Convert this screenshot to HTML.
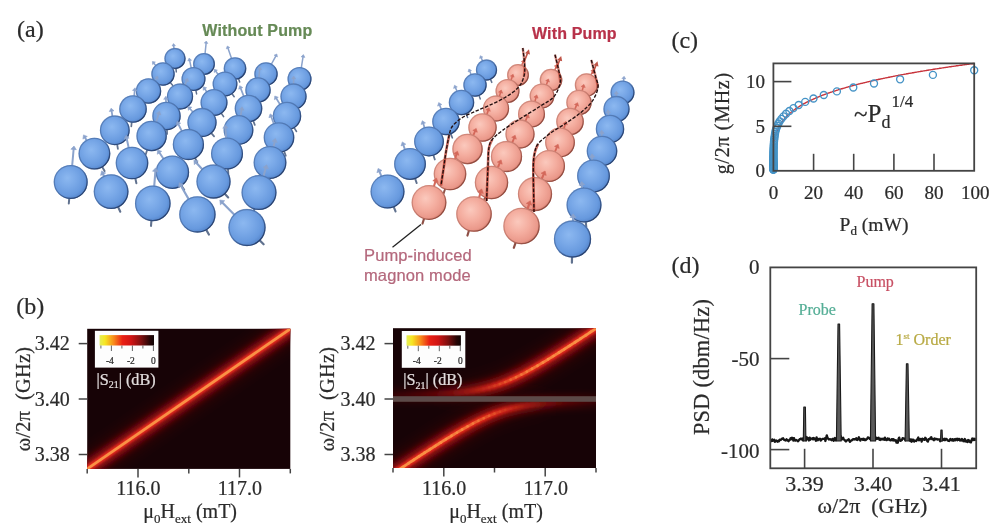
<!DOCTYPE html>
<html><head><meta charset="utf-8"><title>Figure</title>
<style>
html,body{margin:0;padding:0;background:#fff;}
body{width:1000px;height:530px;overflow:hidden;}
svg{display:block;filter:blur(0.6px);}
text{font-family:"Liberation Serif",serif;fill:#2b2b2b;stroke:#2b2b2b;stroke-width:0.22px;}
.san{font-family:"Liberation Sans",sans-serif;}
</style></head><body>
<svg width="1000" height="530" viewBox="0 0 1000 530">
<defs>
<radialGradient id="gb" cx="0.42" cy="0.42" r="0.62" fx="0.40" fy="0.38">
<stop offset="0" stop-color="#8cb8f0"/><stop offset="0.4" stop-color="#7aa9e8"/><stop offset="0.78" stop-color="#6799de"/><stop offset="1" stop-color="#5080c6"/>
</radialGradient>
<radialGradient id="gp" cx="0.42" cy="0.42" r="0.62" fx="0.40" fy="0.38">
<stop offset="0" stop-color="#fbc9bd"/><stop offset="0.5" stop-color="#f4ad9f"/><stop offset="0.85" stop-color="#ea988a"/><stop offset="1" stop-color="#cc7868"/>
</radialGradient>
<linearGradient id="rimb" x1="0.15" y1="0.1" x2="0.85" y2="0.9"><stop offset="0" stop-color="#27406e" stop-opacity="0.34"/><stop offset="0.45" stop-color="#27406e" stop-opacity="0.4"/><stop offset="1" stop-color="#1e3158" stop-opacity="0.85"/></linearGradient>
<linearGradient id="rimp" x1="0.15" y1="0.1" x2="0.85" y2="0.9"><stop offset="0" stop-color="#8a4438" stop-opacity="0.3"/><stop offset="0.45" stop-color="#8a4438" stop-opacity="0.36"/><stop offset="1" stop-color="#7a382e" stop-opacity="0.8"/></linearGradient>
<linearGradient id="cb" x1="0" x2="1" y1="0" y2="0">
<stop offset="0" stop-color="#e4ee58"/><stop offset="0.1" stop-color="#f6e622"/><stop offset="0.26" stop-color="#f88a1a"/><stop offset="0.42" stop-color="#ea2014"/><stop offset="0.58" stop-color="#d01414"/><stop offset="0.76" stop-color="#801010"/><stop offset="0.92" stop-color="#280606"/><stop offset="1" stop-color="#100404"/>
</linearGradient>
<linearGradient id="gu" gradientUnits="userSpaceOnUse" x1="430" x2="530" y1="0" y2="0"><stop offset="0" stop-color="#5a0a0e" stop-opacity="0"/><stop offset="1" stop-color="#5a0a0e" stop-opacity="1"/></linearGradient>
<linearGradient id="gl" gradientUnits="userSpaceOnUse" x1="460" x2="560" y1="0" y2="0"><stop offset="0" stop-color="#5a0a0e" stop-opacity="1"/><stop offset="1" stop-color="#5a0a0e" stop-opacity="0"/></linearGradient>
<filter id="bl12" x="-30%" y="-30%" width="160%" height="160%"><feGaussianBlur stdDeviation="9"/></filter>
<filter id="bl6" x="-20%" y="-20%" width="140%" height="140%"><feGaussianBlur stdDeviation="3.2"/></filter>
<filter id="bl2" x="-20%" y="-20%" width="140%" height="140%"><feGaussianBlur stdDeviation="1.3"/></filter>
<filter id="bl1" x="-20%" y="-20%" width="140%" height="140%"><feGaussianBlur stdDeviation="0.6"/></filter>
<clipPath id="c1"><rect x="87.2" y="328.8" width="203.1" height="140.1"/></clipPath>
<clipPath id="c2"><rect x="393" y="328.2" width="203" height="139.8"/></clipPath>
</defs>
<rect width="1000" height="530" fill="#fff"/>

<g id="lattL">
<line x1="175.0" y1="58.5" x2="176.3" y2="71.9" stroke="#61728f" stroke-width="1.5" stroke-linecap="round"/><line x1="175.0" y1="58.5" x2="173.7" y2="45.8" stroke="#8ba3cc" stroke-width="1.5" stroke-linecap="round"/><polygon points="173.5,43.6 175.4,45.7 172.0,46.0" fill="#8ba3cc" stroke="#8ba3cc" stroke-width="0.6" stroke-linejoin="round"/><circle cx="175.0" cy="58.5" r="10.6" fill="url(#gb)"/><circle cx="175.0" cy="58.5" r="10.0" fill="none" stroke="url(#rimb)" stroke-width="1.3"/>
<line x1="204.0" y1="64.0" x2="202.6" y2="77.8" stroke="#61728f" stroke-width="1.5" stroke-linecap="round"/><line x1="204.0" y1="64.0" x2="206.1" y2="43.3" stroke="#8ba3cc" stroke-width="1.5" stroke-linecap="round"/><polygon points="206.3,41.0 207.8,43.5 204.3,43.1" fill="#8ba3cc" stroke="#8ba3cc" stroke-width="0.6" stroke-linejoin="round"/><circle cx="204.0" cy="64.0" r="10.9" fill="url(#gb)"/><circle cx="204.0" cy="64.0" r="10.3" fill="none" stroke="url(#rimb)" stroke-width="1.3"/>
<line x1="235.0" y1="68.5" x2="239.7" y2="82.1" stroke="#61728f" stroke-width="1.5" stroke-linecap="round"/><line x1="235.0" y1="68.5" x2="228.0" y2="48.2" stroke="#8ba3cc" stroke-width="1.5" stroke-linecap="round"/><polygon points="227.3,46.0 229.8,47.6 226.3,48.8" fill="#8ba3cc" stroke="#8ba3cc" stroke-width="0.6" stroke-linejoin="round"/><circle cx="235.0" cy="68.5" r="11.3" fill="url(#gb)"/><circle cx="235.0" cy="68.5" r="10.7" fill="none" stroke="url(#rimb)" stroke-width="1.3"/>
<line x1="266.0" y1="74.0" x2="258.9" y2="87.0" stroke="#61728f" stroke-width="1.5" stroke-linecap="round"/><line x1="266.0" y1="74.0" x2="275.8" y2="56.1" stroke="#8ba3cc" stroke-width="1.5" stroke-linecap="round"/><polygon points="276.9,54.0 277.4,57.0 274.1,55.2" fill="#8ba3cc" stroke="#8ba3cc" stroke-width="0.6" stroke-linejoin="round"/><circle cx="266.0" cy="74.0" r="11.7" fill="url(#gb)"/><circle cx="266.0" cy="74.0" r="11.1" fill="none" stroke="url(#rimb)" stroke-width="1.3"/>
<line x1="299.5" y1="79.0" x2="297.1" y2="94.0" stroke="#61728f" stroke-width="1.5" stroke-linecap="round"/><line x1="299.5" y1="79.0" x2="303.0" y2="57.1" stroke="#8ba3cc" stroke-width="1.5" stroke-linecap="round"/><polygon points="303.4,54.6 304.9,57.4 301.1,56.8" fill="#8ba3cc" stroke="#8ba3cc" stroke-width="0.6" stroke-linejoin="round"/><circle cx="299.5" cy="79.0" r="12.0" fill="url(#gb)"/><circle cx="299.5" cy="79.0" r="11.4" fill="none" stroke="url(#rimb)" stroke-width="1.3"/>
<line x1="163.0" y1="74.0" x2="172.6" y2="85.3" stroke="#61728f" stroke-width="1.5" stroke-linecap="round"/><line x1="163.0" y1="74.0" x2="154.0" y2="63.4" stroke="#8ba3cc" stroke-width="1.5" stroke-linecap="round"/><polygon points="152.4,61.5 155.4,62.1 152.6,64.6" fill="#8ba3cc" stroke="#8ba3cc" stroke-width="0.6" stroke-linejoin="round"/><circle cx="163.0" cy="74.0" r="11.7" fill="url(#gb)"/><circle cx="163.0" cy="74.0" r="11.1" fill="none" stroke="url(#rimb)" stroke-width="1.3"/>
<line x1="193.5" y1="79.0" x2="196.6" y2="93.9" stroke="#61728f" stroke-width="1.5" stroke-linecap="round"/><line x1="193.5" y1="79.0" x2="189.7" y2="60.6" stroke="#8ba3cc" stroke-width="1.5" stroke-linecap="round"/><polygon points="189.1,58.1 191.5,60.2 187.8,61.0" fill="#8ba3cc" stroke="#8ba3cc" stroke-width="0.6" stroke-linejoin="round"/><circle cx="193.5" cy="79.0" r="12.0" fill="url(#gb)"/><circle cx="193.5" cy="79.0" r="11.4" fill="none" stroke="url(#rimb)" stroke-width="1.3"/>
<line x1="225.0" y1="84.0" x2="234.2" y2="96.7" stroke="#61728f" stroke-width="1.5" stroke-linecap="round"/><line x1="225.0" y1="84.0" x2="215.8" y2="71.3" stroke="#8ba3cc" stroke-width="1.5" stroke-linecap="round"/><polygon points="214.3,69.3 217.4,70.2 214.2,72.5" fill="#8ba3cc" stroke="#8ba3cc" stroke-width="0.6" stroke-linejoin="round"/><circle cx="225.0" cy="84.0" r="12.4" fill="url(#gb)"/><circle cx="225.0" cy="84.0" r="11.8" fill="none" stroke="url(#rimb)" stroke-width="1.3"/>
<line x1="258.0" y1="90.0" x2="256.7" y2="106.1" stroke="#61728f" stroke-width="1.5" stroke-linecap="round"/><line x1="258.0" y1="90.0" x2="259.6" y2="69.4" stroke="#8ba3cc" stroke-width="1.5" stroke-linecap="round"/><polygon points="259.8,66.7 261.7,69.5 257.6,69.2" fill="#8ba3cc" stroke="#8ba3cc" stroke-width="0.6" stroke-linejoin="round"/><circle cx="258.0" cy="90.0" r="12.7" fill="url(#gb)"/><circle cx="258.0" cy="90.0" r="12.1" fill="none" stroke="url(#rimb)" stroke-width="1.3"/>
<line x1="293.5" y1="96.5" x2="293.4" y2="113.1" stroke="#61728f" stroke-width="1.6" stroke-linecap="round"/><line x1="293.5" y1="96.5" x2="293.6" y2="78.8" stroke="#8ba3cc" stroke-width="1.6" stroke-linecap="round"/><polygon points="293.7,76.1 295.7,78.9 291.5,78.8" fill="#8ba3cc" stroke="#8ba3cc" stroke-width="0.6" stroke-linejoin="round"/><circle cx="293.5" cy="96.5" r="13.1" fill="url(#gb)"/><circle cx="293.5" cy="96.5" r="12.5" fill="none" stroke="url(#rimb)" stroke-width="1.3"/>
<line x1="148.5" y1="91.0" x2="139.8" y2="104.6" stroke="#61728f" stroke-width="1.5" stroke-linecap="round"/><line x1="148.5" y1="91.0" x2="156.5" y2="78.4" stroke="#8ba3cc" stroke-width="1.5" stroke-linecap="round"/><polygon points="157.9,76.2 158.2,79.5 154.8,77.3" fill="#8ba3cc" stroke="#8ba3cc" stroke-width="0.6" stroke-linejoin="round"/><circle cx="148.5" cy="91.0" r="12.7" fill="url(#gb)"/><circle cx="148.5" cy="91.0" r="12.1" fill="none" stroke="url(#rimb)" stroke-width="1.3"/>
<line x1="180.0" y1="96.5" x2="173.5" y2="111.8" stroke="#61728f" stroke-width="1.6" stroke-linecap="round"/><line x1="180.0" y1="96.5" x2="186.6" y2="80.9" stroke="#8ba3cc" stroke-width="1.6" stroke-linecap="round"/><polygon points="187.7,78.4 188.6,81.7 184.7,80.1" fill="#8ba3cc" stroke="#8ba3cc" stroke-width="0.6" stroke-linejoin="round"/><circle cx="180.0" cy="96.5" r="13.1" fill="url(#gb)"/><circle cx="180.0" cy="96.5" r="12.5" fill="none" stroke="url(#rimb)" stroke-width="1.3"/>
<line x1="214.0" y1="102.5" x2="223.6" y2="116.6" stroke="#61728f" stroke-width="1.6" stroke-linecap="round"/><line x1="214.0" y1="102.5" x2="204.8" y2="89.0" stroke="#8ba3cc" stroke-width="1.6" stroke-linecap="round"/><polygon points="203.3,86.7 206.6,87.8 203.1,90.3" fill="#8ba3cc" stroke="#8ba3cc" stroke-width="0.6" stroke-linejoin="round"/><circle cx="214.0" cy="102.5" r="13.5" fill="url(#gb)"/><circle cx="214.0" cy="102.5" r="12.9" fill="none" stroke="url(#rimb)" stroke-width="1.3"/>
<line x1="248.5" y1="108.5" x2="254.8" y2="124.9" stroke="#61728f" stroke-width="1.7" stroke-linecap="round"/><line x1="248.5" y1="108.5" x2="240.7" y2="88.4" stroke="#8ba3cc" stroke-width="1.7" stroke-linecap="round"/><polygon points="239.7,85.7 242.8,87.6 238.7,89.2" fill="#8ba3cc" stroke="#8ba3cc" stroke-width="0.6" stroke-linejoin="round"/><circle cx="248.5" cy="108.5" r="13.8" fill="url(#gb)"/><circle cx="248.5" cy="108.5" r="13.2" fill="none" stroke="url(#rimb)" stroke-width="1.3"/>
<line x1="287.0" y1="116.0" x2="296.4" y2="131.4" stroke="#61728f" stroke-width="1.7" stroke-linecap="round"/><line x1="287.0" y1="116.0" x2="276.4" y2="98.5" stroke="#8ba3cc" stroke-width="1.7" stroke-linecap="round"/><polygon points="274.8,96.0 278.3,97.3 274.4,99.7" fill="#8ba3cc" stroke="#8ba3cc" stroke-width="0.6" stroke-linejoin="round"/><circle cx="287.0" cy="116.0" r="14.2" fill="url(#gb)"/><circle cx="287.0" cy="116.0" r="13.6" fill="none" stroke="url(#rimb)" stroke-width="1.3"/>
<line x1="133.0" y1="109.0" x2="131.3" y2="126.4" stroke="#61728f" stroke-width="1.7" stroke-linecap="round"/><line x1="133.0" y1="109.0" x2="134.7" y2="90.6" stroke="#8ba3cc" stroke-width="1.7" stroke-linecap="round"/><polygon points="135.0,87.8 136.9,90.9 132.5,90.4" fill="#8ba3cc" stroke="#8ba3cc" stroke-width="0.6" stroke-linejoin="round"/><circle cx="133.0" cy="109.0" r="13.8" fill="url(#gb)"/><circle cx="133.0" cy="109.0" r="13.2" fill="none" stroke="url(#rimb)" stroke-width="1.3"/>
<line x1="166.5" y1="116.0" x2="167.1" y2="134.0" stroke="#61728f" stroke-width="1.7" stroke-linecap="round"/><line x1="166.5" y1="116.0" x2="165.9" y2="99.3" stroke="#8ba3cc" stroke-width="1.7" stroke-linecap="round"/><polygon points="165.8,96.3 168.2,99.2 163.7,99.3" fill="#8ba3cc" stroke="#8ba3cc" stroke-width="0.6" stroke-linejoin="round"/><circle cx="166.5" cy="116.0" r="14.2" fill="url(#gb)"/><circle cx="166.5" cy="116.0" r="13.6" fill="none" stroke="url(#rimb)" stroke-width="1.3"/>
<line x1="202.0" y1="122.5" x2="214.1" y2="136.4" stroke="#61728f" stroke-width="1.7" stroke-linecap="round"/><line x1="202.0" y1="122.5" x2="190.0" y2="108.8" stroke="#8ba3cc" stroke-width="1.7" stroke-linecap="round"/><polygon points="188.0,106.5 191.8,107.2 188.3,110.3" fill="#8ba3cc" stroke="#8ba3cc" stroke-width="0.6" stroke-linejoin="round"/><circle cx="202.0" cy="122.5" r="14.6" fill="url(#gb)"/><circle cx="202.0" cy="122.5" r="14.0" fill="none" stroke="url(#rimb)" stroke-width="1.3"/>
<line x1="238.5" y1="130.0" x2="235.6" y2="148.7" stroke="#61728f" stroke-width="1.8" stroke-linecap="round"/><line x1="238.5" y1="130.0" x2="241.6" y2="109.9" stroke="#8ba3cc" stroke-width="1.8" stroke-linecap="round"/><polygon points="242.1,106.8 244.0,110.2 239.2,109.5" fill="#8ba3cc" stroke="#8ba3cc" stroke-width="0.6" stroke-linejoin="round"/><circle cx="238.5" cy="130.0" r="14.9" fill="url(#gb)"/><circle cx="238.5" cy="130.0" r="14.3" fill="none" stroke="url(#rimb)" stroke-width="1.3"/>
<line x1="279.0" y1="137.5" x2="285.8" y2="155.7" stroke="#61728f" stroke-width="1.8" stroke-linecap="round"/><line x1="279.0" y1="137.5" x2="271.2" y2="116.8" stroke="#8ba3cc" stroke-width="1.8" stroke-linecap="round"/><polygon points="270.1,113.9 273.5,116.0 268.9,117.7" fill="#8ba3cc" stroke="#8ba3cc" stroke-width="0.6" stroke-linejoin="round"/><circle cx="279.0" cy="137.5" r="15.3" fill="url(#gb)"/><circle cx="279.0" cy="137.5" r="14.7" fill="none" stroke="url(#rimb)" stroke-width="1.3"/>
<line x1="114.8" y1="130.3" x2="117.9" y2="148.9" stroke="#61728f" stroke-width="1.8" stroke-linecap="round"/><line x1="114.8" y1="130.3" x2="111.6" y2="111.2" stroke="#8ba3cc" stroke-width="1.8" stroke-linecap="round"/><polygon points="111.1,108.2 114.0,110.8 109.3,111.6" fill="#8ba3cc" stroke="#8ba3cc" stroke-width="0.6" stroke-linejoin="round"/><circle cx="114.8" cy="130.3" r="14.9" fill="url(#gb)"/><circle cx="114.8" cy="130.3" r="14.3" fill="none" stroke="url(#rimb)" stroke-width="1.3"/>
<line x1="151.6" y1="136.0" x2="145.7" y2="154.4" stroke="#61728f" stroke-width="1.8" stroke-linecap="round"/><line x1="151.6" y1="136.0" x2="158.6" y2="114.2" stroke="#8ba3cc" stroke-width="1.8" stroke-linecap="round"/><polygon points="159.6,111.2 160.9,115.0 156.3,113.5" fill="#8ba3cc" stroke="#8ba3cc" stroke-width="0.6" stroke-linejoin="round"/><circle cx="151.6" cy="136.0" r="15.2" fill="url(#gb)"/><circle cx="151.6" cy="136.0" r="14.6" fill="none" stroke="url(#rimb)" stroke-width="1.3"/>
<line x1="188.4" y1="144.5" x2="197.2" y2="162.3" stroke="#61728f" stroke-width="1.9" stroke-linecap="round"/><line x1="188.4" y1="144.5" x2="178.5" y2="124.3" stroke="#8ba3cc" stroke-width="1.9" stroke-linecap="round"/><polygon points="177.0,121.4 180.7,123.2 176.2,125.5" fill="#8ba3cc" stroke="#8ba3cc" stroke-width="0.6" stroke-linejoin="round"/><circle cx="188.4" cy="144.5" r="15.6" fill="url(#gb)"/><circle cx="188.4" cy="144.5" r="15.0" fill="none" stroke="url(#rimb)" stroke-width="1.3"/>
<line x1="227.0" y1="153.5" x2="228.3" y2="173.8" stroke="#61728f" stroke-width="1.9" stroke-linecap="round"/><line x1="227.0" y1="153.5" x2="225.4" y2="128.1" stroke="#8ba3cc" stroke-width="1.9" stroke-linecap="round"/><polygon points="225.1,124.8 227.9,128.0 222.8,128.3" fill="#8ba3cc" stroke="#8ba3cc" stroke-width="0.6" stroke-linejoin="round"/><circle cx="227.0" cy="153.5" r="16.0" fill="url(#gb)"/><circle cx="227.0" cy="153.5" r="15.4" fill="none" stroke="url(#rimb)" stroke-width="1.3"/>
<line x1="270.0" y1="162.5" x2="265.4" y2="182.8" stroke="#61728f" stroke-width="2.0" stroke-linecap="round"/><line x1="270.0" y1="162.5" x2="274.7" y2="141.8" stroke="#8ba3cc" stroke-width="2.0" stroke-linecap="round"/><polygon points="275.4,138.5 277.2,142.4 272.1,141.2" fill="#8ba3cc" stroke="#8ba3cc" stroke-width="0.6" stroke-linejoin="round"/><circle cx="270.0" cy="162.5" r="16.4" fill="url(#gb)"/><circle cx="270.0" cy="162.5" r="15.8" fill="none" stroke="url(#rimb)" stroke-width="1.3"/>
<line x1="94.4" y1="153.6" x2="104.6" y2="171.1" stroke="#61728f" stroke-width="1.9" stroke-linecap="round"/><line x1="94.4" y1="153.6" x2="85.1" y2="137.8" stroke="#8ba3cc" stroke-width="1.9" stroke-linecap="round"/><polygon points="83.5,134.9 87.3,136.5 82.9,139.1" fill="#8ba3cc" stroke="#8ba3cc" stroke-width="0.6" stroke-linejoin="round"/><circle cx="94.4" cy="153.6" r="15.9" fill="url(#gb)"/><circle cx="94.4" cy="153.6" r="15.3" fill="none" stroke="url(#rimb)" stroke-width="1.3"/>
<line x1="132.0" y1="163.0" x2="136.4" y2="183.3" stroke="#61728f" stroke-width="2.0" stroke-linecap="round"/><line x1="132.0" y1="163.0" x2="126.7" y2="138.6" stroke="#8ba3cc" stroke-width="2.0" stroke-linecap="round"/><polygon points="126.0,135.3 129.2,138.1 124.1,139.2" fill="#8ba3cc" stroke="#8ba3cc" stroke-width="0.6" stroke-linejoin="round"/><circle cx="132.0" cy="163.0" r="16.3" fill="url(#gb)"/><circle cx="132.0" cy="163.0" r="15.7" fill="none" stroke="url(#rimb)" stroke-width="1.3"/>
<line x1="172.4" y1="172.2" x2="184.2" y2="189.9" stroke="#61728f" stroke-width="2.0" stroke-linecap="round"/><line x1="172.4" y1="172.2" x2="159.5" y2="152.8" stroke="#8ba3cc" stroke-width="2.0" stroke-linecap="round"/><polygon points="157.6,149.9 161.7,151.3 157.3,154.3" fill="#8ba3cc" stroke="#8ba3cc" stroke-width="0.6" stroke-linejoin="round"/><circle cx="172.4" cy="172.2" r="16.7" fill="url(#gb)"/><circle cx="172.4" cy="172.2" r="16.1" fill="none" stroke="url(#rimb)" stroke-width="1.3"/>
<line x1="213.5" y1="181.5" x2="228.2" y2="197.5" stroke="#61728f" stroke-width="2.1" stroke-linecap="round"/><line x1="213.5" y1="181.5" x2="196.3" y2="162.8" stroke="#8ba3cc" stroke-width="2.1" stroke-linecap="round"/><polygon points="193.9,160.2 198.3,161.0 194.3,164.7" fill="#8ba3cc" stroke="#8ba3cc" stroke-width="0.6" stroke-linejoin="round"/><circle cx="213.5" cy="181.5" r="17.1" fill="url(#gb)"/><circle cx="213.5" cy="181.5" r="16.5" fill="none" stroke="url(#rimb)" stroke-width="1.3"/>
<line x1="259.0" y1="192.5" x2="253.1" y2="213.9" stroke="#61728f" stroke-width="2.1" stroke-linecap="round"/><line x1="259.0" y1="192.5" x2="265.7" y2="168.3" stroke="#8ba3cc" stroke-width="2.1" stroke-linecap="round"/><polygon points="266.7,164.8 268.4,169.0 263.0,167.5" fill="#8ba3cc" stroke="#8ba3cc" stroke-width="0.6" stroke-linejoin="round"/><circle cx="259.0" cy="192.5" r="17.5" fill="url(#gb)"/><circle cx="259.0" cy="192.5" r="16.9" fill="none" stroke="url(#rimb)" stroke-width="1.3"/>
<line x1="70.7" y1="182.0" x2="68.8" y2="203.5" stroke="#61728f" stroke-width="2.0" stroke-linecap="round"/><line x1="70.7" y1="182.0" x2="73.6" y2="149.5" stroke="#8ba3cc" stroke-width="2.0" stroke-linecap="round"/><polygon points="74.0,146.0 76.3,149.7 70.9,149.2" fill="#8ba3cc" stroke="#8ba3cc" stroke-width="0.6" stroke-linejoin="round"/><circle cx="70.7" cy="182.0" r="17.0" fill="url(#gb)"/><circle cx="70.7" cy="182.0" r="16.4" fill="none" stroke="url(#rimb)" stroke-width="1.3"/>
<line x1="111.1" y1="191.6" x2="120.3" y2="211.7" stroke="#61728f" stroke-width="2.1" stroke-linecap="round"/><line x1="111.1" y1="191.6" x2="103.1" y2="174.2" stroke="#8ba3cc" stroke-width="2.1" stroke-linecap="round"/><polygon points="101.6,170.9 105.7,173.0 100.6,175.4" fill="#8ba3cc" stroke="#8ba3cc" stroke-width="0.6" stroke-linejoin="round"/><circle cx="111.1" cy="191.6" r="17.4" fill="url(#gb)"/><circle cx="111.1" cy="191.6" r="16.8" fill="none" stroke="url(#rimb)" stroke-width="1.3"/>
<line x1="152.8" y1="203.4" x2="151.0" y2="225.9" stroke="#61728f" stroke-width="2.1" stroke-linecap="round"/><line x1="152.8" y1="203.4" x2="155.4" y2="171.5" stroke="#8ba3cc" stroke-width="2.1" stroke-linecap="round"/><polygon points="155.7,167.8 158.2,171.7 152.5,171.2" fill="#8ba3cc" stroke="#8ba3cc" stroke-width="0.6" stroke-linejoin="round"/><circle cx="152.8" cy="203.4" r="17.8" fill="url(#gb)"/><circle cx="152.8" cy="203.4" r="17.2" fill="none" stroke="url(#rimb)" stroke-width="1.3"/>
<line x1="197.4" y1="214.4" x2="208.9" y2="234.5" stroke="#61728f" stroke-width="2.2" stroke-linecap="round"/><line x1="197.4" y1="214.4" x2="181.1" y2="186.0" stroke="#8ba3cc" stroke-width="2.2" stroke-linecap="round"/><polygon points="179.2,182.7 183.6,184.5 178.6,187.4" fill="#8ba3cc" stroke="#8ba3cc" stroke-width="0.6" stroke-linejoin="round"/><circle cx="197.4" cy="214.4" r="18.2" fill="url(#gb)"/><circle cx="197.4" cy="214.4" r="17.6" fill="none" stroke="url(#rimb)" stroke-width="1.3"/>
<line x1="247.0" y1="227.5" x2="263.6" y2="244.3" stroke="#61728f" stroke-width="2.2" stroke-linecap="round"/><line x1="247.0" y1="227.5" x2="222.5" y2="202.8" stroke="#8ba3cc" stroke-width="2.2" stroke-linecap="round"/><polygon points="219.8,200.0 224.7,200.7 220.4,204.9" fill="#8ba3cc" stroke="#8ba3cc" stroke-width="0.6" stroke-linejoin="round"/><circle cx="247.0" cy="227.5" r="18.6" fill="url(#gb)"/><circle cx="247.0" cy="227.5" r="18.0" fill="none" stroke="url(#rimb)" stroke-width="1.3"/>
</g>
<g id="lattR">
<line x1="486.5" y1="70.0" x2="491.8" y2="82.4" stroke="#61728f" stroke-width="1.5" stroke-linecap="round"/><line x1="486.5" y1="70.0" x2="481.2" y2="57.7" stroke="#8ba3cc" stroke-width="1.5" stroke-linecap="round"/><polygon points="480.3,55.7 482.8,57.1 479.6,58.4" fill="#8ba3cc" stroke="#8ba3cc" stroke-width="0.6" stroke-linejoin="round"/><circle cx="486.5" cy="70.0" r="10.6" fill="url(#gb)"/><circle cx="486.5" cy="70.0" r="10.0" fill="none" stroke="url(#rimb)" stroke-width="1.3"/>
<line x1="518.0" y1="75.0" x2="512.9" y2="88.0" stroke="#8e5046" stroke-width="1.5" stroke-linecap="round"/><line x1="518.0" y1="75.0" x2="523.0" y2="62.1" stroke="#d4685a" stroke-width="1.5" stroke-linecap="round"/><polygon points="523.8,60.0 524.7,62.8 521.4,61.5" fill="#d4685a" stroke="#d4685a" stroke-width="0.6" stroke-linejoin="round"/><circle cx="518.0" cy="75.0" r="10.9" fill="url(#gp)"/><circle cx="518.0" cy="75.0" r="10.3" fill="none" stroke="url(#rimp)" stroke-width="1.3"/>
<line x1="551.0" y1="80.0" x2="545.9" y2="93.4" stroke="#8e5046" stroke-width="1.5" stroke-linecap="round"/><line x1="551.0" y1="80.0" x2="556.1" y2="66.7" stroke="#d4685a" stroke-width="1.5" stroke-linecap="round"/><polygon points="556.9,64.5 557.8,67.3 554.4,66.0" fill="#d4685a" stroke="#d4685a" stroke-width="0.6" stroke-linejoin="round"/><circle cx="551.0" cy="80.0" r="11.3" fill="url(#gp)"/><circle cx="551.0" cy="80.0" r="10.7" fill="none" stroke="url(#rimp)" stroke-width="1.3"/>
<line x1="586.5" y1="85.0" x2="580.5" y2="98.5" stroke="#8e5046" stroke-width="1.5" stroke-linecap="round"/><line x1="586.5" y1="85.0" x2="592.5" y2="71.6" stroke="#d4685a" stroke-width="1.5" stroke-linecap="round"/><polygon points="593.5,69.4 594.2,72.3 590.8,70.8" fill="#d4685a" stroke="#d4685a" stroke-width="0.6" stroke-linejoin="round"/><circle cx="586.5" cy="85.0" r="11.7" fill="url(#gp)"/><circle cx="586.5" cy="85.0" r="11.1" fill="none" stroke="url(#rimp)" stroke-width="1.3"/>
<line x1="622.5" y1="92.5" x2="621.0" y2="107.7" stroke="#61728f" stroke-width="1.5" stroke-linecap="round"/><line x1="622.5" y1="92.5" x2="623.8" y2="78.8" stroke="#8ba3cc" stroke-width="1.5" stroke-linecap="round"/><polygon points="624.1,76.3 625.7,78.9 621.9,78.6" fill="#8ba3cc" stroke="#8ba3cc" stroke-width="0.6" stroke-linejoin="round"/><circle cx="622.5" cy="92.5" r="12.0" fill="url(#gb)"/><circle cx="622.5" cy="92.5" r="11.4" fill="none" stroke="url(#rimb)" stroke-width="1.3"/>
<line x1="475.0" y1="85.0" x2="480.3" y2="98.9" stroke="#61728f" stroke-width="1.5" stroke-linecap="round"/><line x1="475.0" y1="85.0" x2="469.8" y2="71.3" stroke="#8ba3cc" stroke-width="1.5" stroke-linecap="round"/><polygon points="468.9,69.0 471.5,70.6 468.0,71.9" fill="#8ba3cc" stroke="#8ba3cc" stroke-width="0.6" stroke-linejoin="round"/><circle cx="475.0" cy="85.0" r="11.7" fill="url(#gb)"/><circle cx="475.0" cy="85.0" r="11.1" fill="none" stroke="url(#rimb)" stroke-width="1.3"/>
<line x1="507.5" y1="91.0" x2="502.7" y2="105.5" stroke="#8e5046" stroke-width="1.5" stroke-linecap="round"/><line x1="507.5" y1="91.0" x2="512.3" y2="76.6" stroke="#d4685a" stroke-width="1.5" stroke-linecap="round"/><polygon points="513.1,74.3 514.1,77.2 510.5,76.0" fill="#d4685a" stroke="#d4685a" stroke-width="0.6" stroke-linejoin="round"/><circle cx="507.5" cy="91.0" r="12.0" fill="url(#gp)"/><circle cx="507.5" cy="91.0" r="11.4" fill="none" stroke="url(#rimp)" stroke-width="1.3"/>
<line x1="542.0" y1="96.0" x2="536.4" y2="110.7" stroke="#8e5046" stroke-width="1.5" stroke-linecap="round"/><line x1="542.0" y1="96.0" x2="547.6" y2="81.4" stroke="#d4685a" stroke-width="1.5" stroke-linecap="round"/><polygon points="548.5,79.0 549.4,82.1 545.7,80.7" fill="#d4685a" stroke="#d4685a" stroke-width="0.6" stroke-linejoin="round"/><circle cx="542.0" cy="96.0" r="12.4" fill="url(#gp)"/><circle cx="542.0" cy="96.0" r="11.8" fill="none" stroke="url(#rimp)" stroke-width="1.3"/>
<line x1="579.0" y1="102.5" x2="574.8" y2="118.1" stroke="#8e5046" stroke-width="1.5" stroke-linecap="round"/><line x1="579.0" y1="102.5" x2="583.2" y2="87.0" stroke="#d4685a" stroke-width="1.5" stroke-linecap="round"/><polygon points="583.9,84.4 585.2,87.5 581.2,86.5" fill="#d4685a" stroke="#d4685a" stroke-width="0.6" stroke-linejoin="round"/><circle cx="579.0" cy="102.5" r="12.7" fill="url(#gp)"/><circle cx="579.0" cy="102.5" r="12.1" fill="none" stroke="url(#rimp)" stroke-width="1.3"/>
<line x1="616.5" y1="109.0" x2="616.7" y2="125.6" stroke="#61728f" stroke-width="1.6" stroke-linecap="round"/><line x1="616.5" y1="109.0" x2="616.3" y2="93.9" stroke="#8ba3cc" stroke-width="1.6" stroke-linecap="round"/><polygon points="616.3,91.2 618.4,93.9 614.2,94.0" fill="#8ba3cc" stroke="#8ba3cc" stroke-width="0.6" stroke-linejoin="round"/><circle cx="616.5" cy="109.0" r="13.1" fill="url(#gb)"/><circle cx="616.5" cy="109.0" r="12.5" fill="none" stroke="url(#rimb)" stroke-width="1.3"/>
<line x1="461.5" y1="102.5" x2="467.6" y2="117.5" stroke="#61728f" stroke-width="1.5" stroke-linecap="round"/><line x1="461.5" y1="102.5" x2="455.5" y2="87.6" stroke="#8ba3cc" stroke-width="1.5" stroke-linecap="round"/><polygon points="454.5,85.2 457.3,86.9 453.6,88.4" fill="#8ba3cc" stroke="#8ba3cc" stroke-width="0.6" stroke-linejoin="round"/><circle cx="461.5" cy="102.5" r="12.7" fill="url(#gb)"/><circle cx="461.5" cy="102.5" r="12.1" fill="none" stroke="url(#rimb)" stroke-width="1.3"/>
<line x1="496.0" y1="108.5" x2="491.4" y2="124.5" stroke="#8e5046" stroke-width="1.6" stroke-linecap="round"/><line x1="496.0" y1="108.5" x2="500.5" y2="92.6" stroke="#d4685a" stroke-width="1.6" stroke-linecap="round"/><polygon points="501.3,90.0 502.6,93.2 498.5,92.1" fill="#d4685a" stroke="#d4685a" stroke-width="0.6" stroke-linejoin="round"/><circle cx="496.0" cy="108.5" r="13.1" fill="url(#gp)"/><circle cx="496.0" cy="108.5" r="12.5" fill="none" stroke="url(#rimp)" stroke-width="1.3"/>
<line x1="531.5" y1="114.0" x2="526.9" y2="130.5" stroke="#8e5046" stroke-width="1.6" stroke-linecap="round"/><line x1="531.5" y1="114.0" x2="536.0" y2="97.6" stroke="#d4685a" stroke-width="1.6" stroke-linecap="round"/><polygon points="536.8,94.9 538.1,98.2 533.9,97.1" fill="#d4685a" stroke="#d4685a" stroke-width="0.6" stroke-linejoin="round"/><circle cx="531.5" cy="114.0" r="13.5" fill="url(#gp)"/><circle cx="531.5" cy="114.0" r="12.9" fill="none" stroke="url(#rimp)" stroke-width="1.3"/>
<line x1="570.0" y1="121.5" x2="563.4" y2="137.8" stroke="#8e5046" stroke-width="1.7" stroke-linecap="round"/><line x1="570.0" y1="121.5" x2="576.5" y2="105.3" stroke="#d4685a" stroke-width="1.7" stroke-linecap="round"/><polygon points="577.6,102.7 578.6,106.2 574.5,104.5" fill="#d4685a" stroke="#d4685a" stroke-width="0.6" stroke-linejoin="round"/><circle cx="570.0" cy="121.5" r="13.8" fill="url(#gp)"/><circle cx="570.0" cy="121.5" r="13.2" fill="none" stroke="url(#rimp)" stroke-width="1.3"/>
<line x1="610.0" y1="129.0" x2="612.0" y2="146.9" stroke="#61728f" stroke-width="1.7" stroke-linecap="round"/><line x1="610.0" y1="129.0" x2="608.2" y2="112.8" stroke="#8ba3cc" stroke-width="1.7" stroke-linecap="round"/><polygon points="607.9,109.8 610.4,112.5 605.9,113.0" fill="#8ba3cc" stroke="#8ba3cc" stroke-width="0.6" stroke-linejoin="round"/><circle cx="610.0" cy="129.0" r="14.2" fill="url(#gb)"/><circle cx="610.0" cy="129.0" r="13.6" fill="none" stroke="url(#rimb)" stroke-width="1.3"/>
<line x1="446.0" y1="121.5" x2="452.3" y2="137.8" stroke="#61728f" stroke-width="1.7" stroke-linecap="round"/><line x1="446.0" y1="121.5" x2="439.7" y2="105.3" stroke="#8ba3cc" stroke-width="1.7" stroke-linecap="round"/><polygon points="438.7,102.6 441.8,104.5 437.6,106.1" fill="#8ba3cc" stroke="#8ba3cc" stroke-width="0.6" stroke-linejoin="round"/><circle cx="446.0" cy="121.5" r="13.8" fill="url(#gb)"/><circle cx="446.0" cy="121.5" r="13.2" fill="none" stroke="url(#rimb)" stroke-width="1.3"/>
<line x1="482.5" y1="127.5" x2="476.8" y2="144.6" stroke="#8e5046" stroke-width="1.7" stroke-linecap="round"/><line x1="482.5" y1="127.5" x2="488.2" y2="110.6" stroke="#d4685a" stroke-width="1.7" stroke-linecap="round"/><polygon points="489.1,107.8 490.3,111.3 486.0,109.8" fill="#d4685a" stroke="#d4685a" stroke-width="0.6" stroke-linejoin="round"/><circle cx="482.5" cy="127.5" r="14.2" fill="url(#gp)"/><circle cx="482.5" cy="127.5" r="13.6" fill="none" stroke="url(#rimp)" stroke-width="1.3"/>
<line x1="520.0" y1="134.0" x2="512.8" y2="151.0" stroke="#8e5046" stroke-width="1.7" stroke-linecap="round"/><line x1="520.0" y1="134.0" x2="527.1" y2="117.1" stroke="#d4685a" stroke-width="1.7" stroke-linecap="round"/><polygon points="528.3,114.3 529.3,118.0 525.0,116.2" fill="#d4685a" stroke="#d4685a" stroke-width="0.6" stroke-linejoin="round"/><circle cx="520.0" cy="134.0" r="14.6" fill="url(#gp)"/><circle cx="520.0" cy="134.0" r="14.0" fill="none" stroke="url(#rimp)" stroke-width="1.3"/>
<line x1="560.0" y1="142.5" x2="554.9" y2="160.8" stroke="#8e5046" stroke-width="1.8" stroke-linecap="round"/><line x1="560.0" y1="142.5" x2="565.1" y2="124.4" stroke="#d4685a" stroke-width="1.8" stroke-linecap="round"/><polygon points="565.9,121.4 567.4,125.0 562.8,123.7" fill="#d4685a" stroke="#d4685a" stroke-width="0.6" stroke-linejoin="round"/><circle cx="560.0" cy="142.5" r="14.9" fill="url(#gp)"/><circle cx="560.0" cy="142.5" r="14.3" fill="none" stroke="url(#rimp)" stroke-width="1.3"/>
<line x1="602.0" y1="151.0" x2="602.3" y2="170.4" stroke="#61728f" stroke-width="1.8" stroke-linecap="round"/><line x1="602.0" y1="151.0" x2="601.7" y2="133.4" stroke="#8ba3cc" stroke-width="1.8" stroke-linecap="round"/><polygon points="601.7,130.2 604.2,133.4 599.3,133.4" fill="#8ba3cc" stroke="#8ba3cc" stroke-width="0.6" stroke-linejoin="round"/><circle cx="602.0" cy="151.0" r="15.3" fill="url(#gb)"/><circle cx="602.0" cy="151.0" r="14.7" fill="none" stroke="url(#rimb)" stroke-width="1.3"/>
<line x1="429.0" y1="141.5" x2="434.8" y2="159.5" stroke="#61728f" stroke-width="1.8" stroke-linecap="round"/><line x1="429.0" y1="141.5" x2="423.3" y2="123.7" stroke="#8ba3cc" stroke-width="1.8" stroke-linecap="round"/><polygon points="422.3,120.7 425.5,122.9 421.0,124.4" fill="#8ba3cc" stroke="#8ba3cc" stroke-width="0.6" stroke-linejoin="round"/><circle cx="429.0" cy="141.5" r="14.9" fill="url(#gb)"/><circle cx="429.0" cy="141.5" r="14.3" fill="none" stroke="url(#rimb)" stroke-width="1.3"/>
<line x1="467.5" y1="149.0" x2="459.9" y2="166.8" stroke="#8e5046" stroke-width="1.8" stroke-linecap="round"/><line x1="467.5" y1="149.0" x2="475.0" y2="131.3" stroke="#d4685a" stroke-width="1.8" stroke-linecap="round"/><polygon points="476.2,128.4 477.3,132.3 472.8,130.4" fill="#d4685a" stroke="#d4685a" stroke-width="0.6" stroke-linejoin="round"/><circle cx="467.5" cy="149.0" r="15.2" fill="url(#gp)"/><circle cx="467.5" cy="149.0" r="14.6" fill="none" stroke="url(#rimp)" stroke-width="1.3"/>
<line x1="506.5" y1="156.5" x2="498.9" y2="174.9" stroke="#8e5046" stroke-width="1.9" stroke-linecap="round"/><line x1="506.5" y1="156.5" x2="514.0" y2="138.3" stroke="#d4685a" stroke-width="1.9" stroke-linecap="round"/><polygon points="515.2,135.3 516.3,139.2 511.7,137.3" fill="#d4685a" stroke="#d4685a" stroke-width="0.6" stroke-linejoin="round"/><circle cx="506.5" cy="156.5" r="15.6" fill="url(#gp)"/><circle cx="506.5" cy="156.5" r="15.0" fill="none" stroke="url(#rimp)" stroke-width="1.3"/>
<line x1="549.0" y1="166.0" x2="541.1" y2="184.7" stroke="#8e5046" stroke-width="1.9" stroke-linecap="round"/><line x1="549.0" y1="166.0" x2="556.8" y2="147.4" stroke="#d4685a" stroke-width="1.9" stroke-linecap="round"/><polygon points="558.1,144.3 559.2,148.4 554.5,146.4" fill="#d4685a" stroke="#d4685a" stroke-width="0.6" stroke-linejoin="round"/><circle cx="549.0" cy="166.0" r="16.0" fill="url(#gp)"/><circle cx="549.0" cy="166.0" r="15.4" fill="none" stroke="url(#rimp)" stroke-width="1.3"/>
<line x1="593.5" y1="176.0" x2="594.9" y2="196.8" stroke="#61728f" stroke-width="2.0" stroke-linecap="round"/><line x1="593.5" y1="176.0" x2="592.2" y2="157.2" stroke="#8ba3cc" stroke-width="2.0" stroke-linecap="round"/><polygon points="592.0,153.8 594.9,157.0 589.6,157.4" fill="#8ba3cc" stroke="#8ba3cc" stroke-width="0.6" stroke-linejoin="round"/><circle cx="593.5" cy="176.0" r="16.4" fill="url(#gb)"/><circle cx="593.5" cy="176.0" r="15.8" fill="none" stroke="url(#rimb)" stroke-width="1.3"/>
<line x1="410.0" y1="164.0" x2="416.7" y2="183.1" stroke="#61728f" stroke-width="1.9" stroke-linecap="round"/><line x1="410.0" y1="164.0" x2="403.4" y2="145.1" stroke="#8ba3cc" stroke-width="1.9" stroke-linecap="round"/><polygon points="402.3,141.9 405.8,144.2 401.0,145.9" fill="#8ba3cc" stroke="#8ba3cc" stroke-width="0.6" stroke-linejoin="round"/><circle cx="410.0" cy="164.0" r="15.9" fill="url(#gb)"/><circle cx="410.0" cy="164.0" r="15.3" fill="none" stroke="url(#rimb)" stroke-width="1.3"/>
<line x1="450.0" y1="174.0" x2="443.5" y2="193.7" stroke="#8e5046" stroke-width="2.0" stroke-linecap="round"/><line x1="450.0" y1="174.0" x2="456.4" y2="154.5" stroke="#d4685a" stroke-width="2.0" stroke-linecap="round"/><polygon points="457.5,151.2 458.9,155.3 453.9,153.6" fill="#d4685a" stroke="#d4685a" stroke-width="0.6" stroke-linejoin="round"/><circle cx="450.0" cy="174.0" r="16.3" fill="url(#gp)"/><circle cx="450.0" cy="174.0" r="15.7" fill="none" stroke="url(#rimp)" stroke-width="1.3"/>
<line x1="491.5" y1="182.5" x2="483.2" y2="202.0" stroke="#8e5046" stroke-width="2.0" stroke-linecap="round"/><line x1="491.5" y1="182.5" x2="499.7" y2="163.1" stroke="#d4685a" stroke-width="2.0" stroke-linecap="round"/><polygon points="501.1,159.9 502.2,164.2 497.3,162.1" fill="#d4685a" stroke="#d4685a" stroke-width="0.6" stroke-linejoin="round"/><circle cx="491.5" cy="182.5" r="16.7" fill="url(#gp)"/><circle cx="491.5" cy="182.5" r="16.1" fill="none" stroke="url(#rimp)" stroke-width="1.3"/>
<line x1="535.0" y1="194.0" x2="526.3" y2="213.9" stroke="#8e5046" stroke-width="2.1" stroke-linecap="round"/><line x1="535.0" y1="194.0" x2="543.7" y2="174.3" stroke="#d4685a" stroke-width="2.1" stroke-linecap="round"/><polygon points="545.1,171.0 546.2,175.4 541.1,173.2" fill="#d4685a" stroke="#d4685a" stroke-width="0.6" stroke-linejoin="round"/><circle cx="535.0" cy="194.0" r="17.1" fill="url(#gp)"/><circle cx="535.0" cy="194.0" r="16.5" fill="none" stroke="url(#rimp)" stroke-width="1.3"/>
<line x1="584.0" y1="205.0" x2="586.3" y2="227.1" stroke="#61728f" stroke-width="2.1" stroke-linecap="round"/><line x1="584.0" y1="205.0" x2="581.9" y2="185.0" stroke="#8ba3cc" stroke-width="2.1" stroke-linecap="round"/><polygon points="581.5,181.4 584.7,184.7 579.1,185.3" fill="#8ba3cc" stroke="#8ba3cc" stroke-width="0.6" stroke-linejoin="round"/><circle cx="584.0" cy="205.0" r="17.5" fill="url(#gb)"/><circle cx="584.0" cy="205.0" r="16.9" fill="none" stroke="url(#rimb)" stroke-width="1.3"/>
<line x1="387.5" y1="191.5" x2="395.6" y2="211.5" stroke="#61728f" stroke-width="2.0" stroke-linecap="round"/><line x1="387.5" y1="191.5" x2="379.5" y2="171.6" stroke="#8ba3cc" stroke-width="2.0" stroke-linecap="round"/><polygon points="378.1,168.4 382.0,170.6 376.9,172.7" fill="#8ba3cc" stroke="#8ba3cc" stroke-width="0.6" stroke-linejoin="round"/><circle cx="387.5" cy="191.5" r="17.0" fill="url(#gb)"/><circle cx="387.5" cy="191.5" r="16.4" fill="none" stroke="url(#rimb)" stroke-width="1.3"/>
<line x1="429.0" y1="202.5" x2="422.5" y2="223.6" stroke="#8e5046" stroke-width="2.1" stroke-linecap="round"/><line x1="429.0" y1="202.5" x2="435.4" y2="181.5" stroke="#d4685a" stroke-width="2.1" stroke-linecap="round"/><polygon points="436.5,178.1 438.1,182.4 432.8,180.7" fill="#d4685a" stroke="#d4685a" stroke-width="0.6" stroke-linejoin="round"/><circle cx="429.0" cy="202.5" r="17.4" fill="url(#gp)"/><circle cx="429.0" cy="202.5" r="16.8" fill="none" stroke="url(#rimp)" stroke-width="1.3"/>
<line x1="474.0" y1="214.0" x2="467.4" y2="235.6" stroke="#8e5046" stroke-width="2.1" stroke-linecap="round"/><line x1="474.0" y1="214.0" x2="480.6" y2="192.6" stroke="#d4685a" stroke-width="2.1" stroke-linecap="round"/><polygon points="481.7,189.0 483.3,193.4 477.8,191.7" fill="#d4685a" stroke="#d4685a" stroke-width="0.6" stroke-linejoin="round"/><circle cx="474.0" cy="214.0" r="17.8" fill="url(#gp)"/><circle cx="474.0" cy="214.0" r="17.2" fill="none" stroke="url(#rimp)" stroke-width="1.3"/>
<line x1="521.5" y1="226.0" x2="513.8" y2="247.8" stroke="#8e5046" stroke-width="2.2" stroke-linecap="round"/><line x1="521.5" y1="226.0" x2="529.1" y2="204.4" stroke="#d4685a" stroke-width="2.2" stroke-linecap="round"/><polygon points="530.3,200.8 531.8,205.3 526.3,203.4" fill="#d4685a" stroke="#d4685a" stroke-width="0.6" stroke-linejoin="round"/><circle cx="521.5" cy="226.0" r="18.2" fill="url(#gp)"/><circle cx="521.5" cy="226.0" r="17.6" fill="none" stroke="url(#rimp)" stroke-width="1.3"/>
<line x1="572.5" y1="239.0" x2="571.9" y2="262.6" stroke="#61728f" stroke-width="2.2" stroke-linecap="round"/><line x1="572.5" y1="239.0" x2="573.1" y2="217.6" stroke="#8ba3cc" stroke-width="2.2" stroke-linecap="round"/><polygon points="573.2,213.8 576.0,217.7 570.1,217.5" fill="#8ba3cc" stroke="#8ba3cc" stroke-width="0.6" stroke-linejoin="round"/><circle cx="572.5" cy="239.0" r="18.6" fill="url(#gb)"/><circle cx="572.5" cy="239.0" r="18.0" fill="none" stroke="url(#rimb)" stroke-width="1.3"/>
</g>
<line x1="524.4" y1="61.0" x2="527.4" y2="53.5" stroke="#c05548" stroke-width="1.7" stroke-linecap="round"/>
<polygon points="529.0,49.2 525.0,53.2 530.0,54.6" fill="#c05548"/>
<path d="M449.2,135.0 C448.6,138.0 446.7,147.6 445.8,153.0 C444.9,158.4 444.5,162.2 443.7,167.6 C442.9,173.0 441.4,182.5 441.0,185.5" fill="none" stroke="#b8382a" stroke-width="2.6" opacity="0.75"/>
<path d="M522.8,48.0 C523.1,50.8 524.4,60.2 524.6,64.9 C524.8,69.6 524.1,74.3 524.0,76.2" fill="none" stroke="#b8382a" stroke-width="2.4" opacity="0.6"/>
<path d="M522.8,48.0 C523.1,50.8 524.4,60.2 524.6,64.9 C524.8,69.6 525.0,72.4 524.0,76.2 C523.0,80.0 521.5,83.9 518.3,87.5 C515.1,91.1 509.6,94.7 504.7,97.7 C499.8,100.7 493.7,103.3 488.8,105.6 C483.9,107.9 479.8,109.2 475.3,111.3 C470.8,113.4 465.5,115.5 461.7,118.0 C457.9,120.5 454.7,123.2 452.6,126.0 C450.5,128.8 450.3,130.5 449.2,135.0 C448.1,139.5 446.7,147.6 445.8,153.0 C444.9,158.4 444.5,162.2 443.7,167.6 C442.9,173.0 441.4,182.5 441.0,185.5" fill="none" stroke="#241010" stroke-width="1.35" stroke-dasharray="3.5 1.6"/>
<line x1="556.6" y1="67.7" x2="559.6" y2="60.2" stroke="#c05548" stroke-width="1.7" stroke-linecap="round"/>
<polygon points="561.2,55.9 557.2,59.9 562.2,61.3" fill="#c05548"/>
<path d="M492.2,139.6 C491.6,141.1 489.5,143.9 488.8,148.6 C488.1,153.3 488.3,158.9 487.9,167.6 C487.5,176.3 486.8,195.4 486.6,201.0" fill="none" stroke="#b8382a" stroke-width="2.6" opacity="0.75"/>
<path d="M555.0,54.7 C555.6,57.2 557.6,64.9 558.5,69.4 C559.4,73.9 560.0,79.8 560.3,81.9" fill="none" stroke="#b8382a" stroke-width="2.4" opacity="0.6"/>
<path d="M555.0,54.7 C555.6,57.2 557.6,64.9 558.5,69.4 C559.4,73.9 561.0,77.4 560.3,81.9 C559.5,86.4 557.4,92.5 554.0,96.6 C550.6,100.7 545.4,102.8 539.8,106.5 C534.2,110.2 526.7,114.5 520.5,118.5 C514.3,122.5 507.1,127.0 502.4,130.5 C497.7,134.0 494.5,136.6 492.2,139.6 C489.9,142.6 489.5,143.9 488.8,148.6 C488.1,153.3 488.3,158.9 487.9,167.6 C487.5,176.3 486.8,195.4 486.6,201.0" fill="none" stroke="#241010" stroke-width="1.35" stroke-dasharray="3.5 1.6"/>
<line x1="592.9" y1="73.0" x2="595.9" y2="65.5" stroke="#c05548" stroke-width="1.7" stroke-linecap="round"/>
<polygon points="597.5,61.2 593.5,65.2 598.5,66.6" fill="#c05548"/>
<path d="M538.0,144.0 C537.5,145.5 535.5,149.1 534.7,153.0 C533.9,156.9 533.4,157.8 533.3,167.6 C533.2,177.4 533.9,204.6 534.0,212.0" fill="none" stroke="#b8382a" stroke-width="2.6" opacity="0.75"/>
<path d="M591.3,60.0 C592.0,62.9 594.7,72.7 595.8,77.3 C596.9,81.9 597.6,85.8 598.0,87.5" fill="none" stroke="#b8382a" stroke-width="2.4" opacity="0.6"/>
<path d="M591.3,60.0 C592.0,62.9 594.7,72.7 595.8,77.3 C596.9,81.9 598.6,83.5 598.0,87.5 C597.4,91.5 595.2,96.8 592.4,101.0 C589.6,105.2 585.5,108.6 581.0,112.4 C576.5,116.2 570.5,120.1 565.2,123.7 C559.9,127.3 553.9,130.5 549.4,133.9 C544.9,137.3 540.5,140.8 538.0,144.0 C535.5,147.2 535.5,149.1 534.7,153.0 C533.9,156.9 533.4,157.8 533.3,167.6 C533.2,177.4 533.9,204.6 534.0,212.0" fill="none" stroke="#241010" stroke-width="1.35" stroke-dasharray="3.5 1.6"/>
<line x1="392.5" y1="247.3" x2="421" y2="224.5" stroke="#222" stroke-width="1.3"/>
<text x="17" y="36.8" font-size="24" stroke="#2e2e2e" stroke-width="0.3">(a)</text>
<text class="san" x="202.3" y="36" font-size="16" font-weight="bold" letter-spacing="0.15" style="fill:#668a56;stroke:#668a56">Without Pump</text>
<text class="san" x="532" y="38.7" font-size="16" font-weight="bold" letter-spacing="0.15" style="fill:#b8324a;stroke:#b8324a">With Pump</text>
<text class="san" x="364" y="260.8" font-size="16.5" letter-spacing="0.12" style="fill:#b4687c;stroke:#b4687c">Pump-induced</text>
<text class="san" x="364" y="280.8" font-size="16.5" letter-spacing="0.12" style="fill:#b4687c;stroke:#b4687c">magnon mode</text>
<text x="16.2" y="313.6" font-size="24" stroke="#2e2e2e" stroke-width="0.3">(b)</text>
<rect x="87.2" y="328.8" width="203.1" height="140.1" fill="#170306"/>
<g clip-path="url(#c1)">
<line x1="77.2" y1="475.8" x2="300.3" y2="321.9" stroke="#5a0a0e" stroke-width="14" filter="url(#bl12)"/>
<line x1="77.2" y1="475.8" x2="300.3" y2="321.9" stroke="#900e12" stroke-width="15" filter="url(#bl6)"/>
<line x1="77.2" y1="475.8" x2="300.3" y2="321.9" stroke="#e02a1a" stroke-width="6.5" filter="url(#bl2)"/>
<line x1="77.2" y1="475.8" x2="300.3" y2="321.9" stroke="#fa9044" stroke-width="2.8" filter="url(#bl1)"/>
</g>
<rect x="94.9" y="330.8" width="63.5" height="36.8" fill="#fdfdfd"/><rect x="99.6" y="335.1" width="54.4" height="10.4" fill="url(#cb)"/><line x1="153.4" y1="345.5" x2="153.4" y2="351.0" stroke="#555" stroke-width="0.9"/><line x1="142.9" y1="345.5" x2="142.9" y2="348.5" stroke="#555" stroke-width="0.9"/><line x1="132.4" y1="345.5" x2="132.4" y2="351.0" stroke="#555" stroke-width="0.9"/><line x1="121.9" y1="345.5" x2="121.9" y2="348.5" stroke="#555" stroke-width="0.9"/><line x1="111.4" y1="345.5" x2="111.4" y2="351.0" stroke="#555" stroke-width="0.9"/><line x1="100.9" y1="345.5" x2="100.9" y2="348.5" stroke="#555" stroke-width="0.9"/><text x="153.4" y="363.8" font-size="9.5" text-anchor="middle">0</text><text x="130.9" y="363.8" font-size="9.5" text-anchor="middle">-2</text><text x="109.9" y="363.8" font-size="9.5" text-anchor="middle">-4</text><text x="96.4" y="384.8" font-size="16.2" style="fill:#e2dddd;stroke:#e2dddd">|S<tspan font-size="10" dy="3.5">21</tspan><tspan dy="-3.5">| (dB)</tspan></text>
<line x1="78.7" y1="343.6" x2="87.2" y2="343.6" stroke="#444" stroke-width="1.5"/><text x="69.7" y="350.2" font-size="20" text-anchor="end">3.42</text><line x1="78.7" y1="399.0" x2="87.2" y2="399.0" stroke="#444" stroke-width="1.5"/><text x="69.7" y="405.6" font-size="20" text-anchor="end">3.40</text><line x1="78.7" y1="454.5" x2="87.2" y2="454.5" stroke="#444" stroke-width="1.5"/><text x="69.7" y="461.1" font-size="20" text-anchor="end">3.38</text><line x1="87.2" y1="468.9" x2="87.2" y2="473.4" stroke="#444" stroke-width="1.5"/><line x1="138.0" y1="468.9" x2="138.0" y2="477.4" stroke="#444" stroke-width="1.5"/><text x="138.5" y="495" font-size="20" text-anchor="middle">116.0</text><line x1="188.8" y1="468.9" x2="188.8" y2="473.4" stroke="#444" stroke-width="1.5"/><line x1="239.5" y1="468.9" x2="239.5" y2="477.4" stroke="#444" stroke-width="1.5"/><text x="240.0" y="495" font-size="20" text-anchor="middle">117.0</text><line x1="290.3" y1="468.9" x2="290.3" y2="473.4" stroke="#444" stroke-width="1.5"/><text x="190.2" y="517.5" font-size="20" text-anchor="middle">μ<tspan font-size="13" dy="5">0</tspan><tspan dy="-5">H</tspan><tspan font-size="13" dy="5">ext</tspan><tspan dy="-5"> (mT)</tspan></text><text transform="translate(29.5,399) rotate(-90)" font-size="20.3" letter-spacing="0.3" text-anchor="middle">ω/2π  (GHz)</text>
<rect x="393.0" y="328.2" width="203.0" height="139.8" fill="#170306"/>
<g clip-path="url(#c2)">
<path d="M387.0,395.9 L388.3,395.9 L389.7,395.8 L391.0,395.8 L392.4,395.8 L393.7,395.7 L395.1,395.7 L396.4,395.7 L397.8,395.6 L399.1,395.6 L400.4,395.6 L401.8,395.5 L403.1,395.5 L404.5,395.5 L405.8,395.4 L407.2,395.4 L408.5,395.4 L409.8,395.3 L411.2,395.3 L412.5,395.2 L413.9,395.2 L415.2,395.1 L416.6,395.1 L417.9,395.0 L419.2,395.0 L420.6,394.9 L421.9,394.9 L423.3,394.8 L424.6,394.8 L426.0,394.7 L427.3,394.7 L428.7,394.6 L430.0,394.5 L431.3,394.5 L432.7,394.4 L434.0,394.3 L435.4,394.3 L436.7,394.2 L438.1,394.1 L439.4,394.0 L440.8,394.0 L442.1,393.9 L443.4,393.8 L444.8,393.7 L446.1,393.6 L447.5,393.5 L448.8,393.4 L450.2,393.3 L451.5,393.2 L452.8,393.1 L454.2,393.0 L455.5,392.8 L456.9,392.7 L458.2,392.6 L459.6,392.5 L460.9,392.3 L462.2,392.2 L463.6,392.0 L464.9,391.8 L466.3,391.7 L467.6,391.5 L469.0,391.3 L470.3,391.1 L471.7,390.9 L473.0,390.7 L474.3,390.5 L475.7,390.3 L477.0,390.0 L478.4,389.8 L479.7,389.5 L481.1,389.2 L482.4,389.0 L483.8,388.7 L485.1,388.4 L486.4,388.0 L487.8,387.7 L489.1,387.4 L490.5,387.0 L491.8,386.6 L493.2,386.2 L494.5,385.8 L495.8,385.4 L497.2,385.0 L498.5,384.5 L499.9,384.0 L501.2,383.5 L502.6,383.0 L503.9,382.5 L505.2,382.0 L506.6,381.5 L507.9,380.9 L509.3,380.3 L510.6,379.7 L512.0,379.1 L513.3,378.5 L514.7,377.9 L516.0,377.2 L517.3,376.6 L518.7,375.9 L520.0,375.3 L521.4,374.6 L522.7,373.9 L524.1,373.2 L525.4,372.5 L526.8,371.7 L528.1,371.0 L529.4,370.3 L530.8,369.5 L532.1,368.8 L533.5,368.0 L534.8,367.2 L536.2,366.4 L537.5,365.7 L538.8,364.9 L540.2,364.1 L541.5,363.3 L542.9,362.5 L544.2,361.7 L545.6,360.9 L546.9,360.1 L548.2,359.2 L549.6,358.4 L550.9,357.6 L552.3,356.7 L553.6,355.9 L555.0,355.1 L556.3,354.2 L557.7,353.4 L559.0,352.5 L560.3,351.7 L561.7,350.8 L563.0,350.0 L564.4,349.1 L565.7,348.3 L567.1,347.4 L568.4,346.5 L569.8,345.7 L571.1,344.8 L572.4,343.9 L573.8,343.1 L575.1,342.2 L576.5,341.3 L577.8,340.5 L579.2,339.6 L580.5,338.7 L581.8,337.8 L583.2,336.9 L584.5,336.1 L585.9,335.2 L587.2,334.3 L588.6,333.4 L589.9,332.5 L591.2,331.6 L592.6,330.8 L593.9,329.9 L595.3,329.0 L596.6,328.1 L598.0,327.2 L599.3,326.3 L600.7,325.4 L602.0,324.5" fill="none" stroke="url(#gu)" stroke-width="14" filter="url(#bl12)"/>
<g filter="url(#bl6)">
<path d="M387.0,395.9 L388.3,395.9 L389.7,395.8 L391.0,395.8 L392.4,395.8" fill="none" stroke="#900e12" stroke-width="15.0" stroke-opacity="0.06" stroke-linecap="round"/>
<path d="M392.4,395.8 L393.7,395.7 L395.1,395.7 L396.4,395.7 L397.8,395.6" fill="none" stroke="#900e12" stroke-width="15.0" stroke-opacity="0.06" stroke-linecap="round"/>
<path d="M397.8,395.6 L399.1,395.6 L400.4,395.6 L401.8,395.5 L403.1,395.5" fill="none" stroke="#900e12" stroke-width="15.0" stroke-opacity="0.07" stroke-linecap="round"/>
<path d="M403.1,395.5 L404.5,395.5 L405.8,395.4 L407.2,395.4 L408.5,395.4" fill="none" stroke="#900e12" stroke-width="15.0" stroke-opacity="0.08" stroke-linecap="round"/>
<path d="M408.5,395.4 L409.8,395.3 L411.2,395.3 L412.5,395.2 L413.9,395.2" fill="none" stroke="#900e12" stroke-width="15.0" stroke-opacity="0.08" stroke-linecap="round"/>
<path d="M413.9,395.2 L415.2,395.1 L416.6,395.1 L417.9,395.0 L419.2,395.0" fill="none" stroke="#900e12" stroke-width="15.0" stroke-opacity="0.09" stroke-linecap="round"/>
<path d="M419.2,395.0 L420.6,394.9 L421.9,394.9 L423.3,394.8 L424.6,394.8" fill="none" stroke="#900e12" stroke-width="15.0" stroke-opacity="0.10" stroke-linecap="round"/>
<path d="M424.6,394.8 L426.0,394.7 L427.3,394.7 L428.7,394.6 L430.0,394.5" fill="none" stroke="#900e12" stroke-width="15.0" stroke-opacity="0.11" stroke-linecap="round"/>
<path d="M430.0,394.5 L431.3,394.5 L432.7,394.4 L434.0,394.3 L435.4,394.3" fill="none" stroke="#900e12" stroke-width="15.0" stroke-opacity="0.12" stroke-linecap="round"/>
<path d="M435.4,394.3 L436.7,394.2 L438.1,394.1 L439.4,394.0 L440.8,394.0" fill="none" stroke="#900e12" stroke-width="15.0" stroke-opacity="0.14" stroke-linecap="round"/>
<path d="M440.8,394.0 L442.1,393.9 L443.4,393.8 L444.8,393.7 L446.1,393.6" fill="none" stroke="#900e12" stroke-width="15.0" stroke-opacity="0.16" stroke-linecap="round"/>
<path d="M446.1,393.6 L447.5,393.5 L448.8,393.4 L450.2,393.3 L451.5,393.2" fill="none" stroke="#900e12" stroke-width="15.0" stroke-opacity="0.18" stroke-linecap="round"/>
<path d="M451.5,393.2 L452.8,393.1 L454.2,393.0 L455.5,392.8 L456.9,392.7" fill="none" stroke="#900e12" stroke-width="15.0" stroke-opacity="0.20" stroke-linecap="round"/>
<path d="M456.9,392.7 L458.2,392.6 L459.6,392.5 L460.9,392.3 L462.2,392.2" fill="none" stroke="#900e12" stroke-width="15.0" stroke-opacity="0.23" stroke-linecap="round"/>
<path d="M462.2,392.2 L463.6,392.0 L464.9,391.8 L466.3,391.7 L467.6,391.5" fill="none" stroke="#900e12" stroke-width="15.0" stroke-opacity="0.27" stroke-linecap="round"/>
<path d="M467.6,391.5 L469.0,391.3 L470.3,391.1 L471.7,390.9 L473.0,390.7" fill="none" stroke="#900e12" stroke-width="15.0" stroke-opacity="0.31" stroke-linecap="round"/>
<path d="M473.0,390.7 L474.3,390.5 L475.7,390.3 L477.0,390.0 L478.4,389.8" fill="none" stroke="#900e12" stroke-width="15.0" stroke-opacity="0.36" stroke-linecap="round"/>
<path d="M478.4,389.8 L479.7,389.5 L481.1,389.2 L482.4,389.0 L483.8,388.7" fill="none" stroke="#900e12" stroke-width="15.0" stroke-opacity="0.41" stroke-linecap="round"/>
<path d="M483.8,388.7 L485.1,388.4 L486.4,388.0 L487.8,387.7 L489.1,387.4" fill="none" stroke="#900e12" stroke-width="15.0" stroke-opacity="0.48" stroke-linecap="round"/>
<path d="M489.1,387.4 L490.5,387.0 L491.8,386.6 L493.2,386.2 L494.5,385.8" fill="none" stroke="#900e12" stroke-width="15.0" stroke-opacity="0.55" stroke-linecap="round"/>
<path d="M494.5,385.8 L495.8,385.4 L497.2,385.0 L498.5,384.5 L499.9,384.0" fill="none" stroke="#900e12" stroke-width="15.0" stroke-opacity="0.62" stroke-linecap="round"/>
<path d="M499.9,384.0 L501.2,383.5 L502.6,383.0 L503.9,382.5 L505.2,382.0" fill="none" stroke="#900e12" stroke-width="15.0" stroke-opacity="0.69" stroke-linecap="round"/>
<path d="M505.2,382.0 L506.6,381.5 L507.9,380.9 L509.3,380.3 L510.6,379.7" fill="none" stroke="#900e12" stroke-width="15.0" stroke-opacity="0.76" stroke-linecap="round"/>
<path d="M510.6,379.7 L512.0,379.1 L513.3,378.5 L514.7,377.9 L516.0,377.2" fill="none" stroke="#900e12" stroke-width="15.0" stroke-opacity="0.82" stroke-linecap="round"/>
<path d="M516.0,377.2 L517.3,376.6 L518.7,375.9 L520.0,375.3 L521.4,374.6" fill="none" stroke="#900e12" stroke-width="15.0" stroke-opacity="0.87" stroke-linecap="round"/>
<path d="M521.4,374.6 L522.7,373.9 L524.1,373.2 L525.4,372.5 L526.8,371.7" fill="none" stroke="#900e12" stroke-width="15.0" stroke-opacity="0.92" stroke-linecap="round"/>
<path d="M526.8,371.7 L528.1,371.0 L529.4,370.3 L530.8,369.5 L532.1,368.8" fill="none" stroke="#900e12" stroke-width="15.0" stroke-opacity="0.96" stroke-linecap="round"/>
<path d="M532.1,368.8 L533.5,368.0 L534.8,367.2 L536.2,366.4 L537.5,365.7" fill="none" stroke="#900e12" stroke-width="15.0" stroke-opacity="0.99" stroke-linecap="round"/>
<path d="M537.5,365.7 L538.8,364.9 L540.2,364.1 L541.5,363.3 L542.9,362.5" fill="none" stroke="#900e12" stroke-width="15.0" stroke-opacity="1.00" stroke-linecap="round"/>
<path d="M542.9,362.5 L544.2,361.7 L545.6,360.9 L546.9,360.1 L548.2,359.2" fill="none" stroke="#900e12" stroke-width="15.0" stroke-opacity="1.00" stroke-linecap="round"/>
<path d="M548.2,359.2 L549.6,358.4 L550.9,357.6 L552.3,356.7 L553.6,355.9" fill="none" stroke="#900e12" stroke-width="15.0" stroke-opacity="1.00" stroke-linecap="round"/>
<path d="M553.6,355.9 L555.0,355.1 L556.3,354.2 L557.7,353.4 L559.0,352.5" fill="none" stroke="#900e12" stroke-width="15.0" stroke-opacity="1.00" stroke-linecap="round"/>
<path d="M559.0,352.5 L560.3,351.7 L561.7,350.8 L563.0,350.0 L564.4,349.1" fill="none" stroke="#900e12" stroke-width="15.0" stroke-opacity="1.00" stroke-linecap="round"/>
<path d="M564.4,349.1 L565.7,348.3 L567.1,347.4 L568.4,346.5 L569.8,345.7" fill="none" stroke="#900e12" stroke-width="15.0" stroke-opacity="1.00" stroke-linecap="round"/>
<path d="M569.8,345.7 L571.1,344.8 L572.4,343.9 L573.8,343.1 L575.1,342.2" fill="none" stroke="#900e12" stroke-width="15.0" stroke-opacity="1.00" stroke-linecap="round"/>
<path d="M575.1,342.2 L576.5,341.3 L577.8,340.5 L579.2,339.6 L580.5,338.7" fill="none" stroke="#900e12" stroke-width="15.0" stroke-opacity="1.00" stroke-linecap="round"/>
<path d="M580.5,338.7 L581.8,337.8 L583.2,336.9 L584.5,336.1 L585.9,335.2" fill="none" stroke="#900e12" stroke-width="15.0" stroke-opacity="1.00" stroke-linecap="round"/>
<path d="M585.9,335.2 L587.2,334.3 L588.6,333.4 L589.9,332.5 L591.2,331.6" fill="none" stroke="#900e12" stroke-width="15.0" stroke-opacity="1.00" stroke-linecap="round"/>
<path d="M591.2,331.6 L592.6,330.8 L593.9,329.9 L595.3,329.0 L596.6,328.1" fill="none" stroke="#900e12" stroke-width="15.0" stroke-opacity="1.00" stroke-linecap="round"/>
<path d="M596.6,328.1 L598.0,327.2 L599.3,326.3 L600.7,325.4 L602.0,324.5" fill="none" stroke="#900e12" stroke-width="15.0" stroke-opacity="1.00" stroke-linecap="round"/>
</g>
<g filter="url(#bl2)">
<path d="M387.0,395.9 L388.3,395.9 L389.7,395.8 L391.0,395.8 L392.4,395.8" fill="none" stroke="#e02a1a" stroke-width="6.5" stroke-opacity="0.03" stroke-linecap="round"/>
<path d="M392.4,395.8 L393.7,395.7 L395.1,395.7 L396.4,395.7 L397.8,395.6" fill="none" stroke="#e02a1a" stroke-width="6.5" stroke-opacity="0.03" stroke-linecap="round"/>
<path d="M397.8,395.6 L399.1,395.6 L400.4,395.6 L401.8,395.5 L403.1,395.5" fill="none" stroke="#e02a1a" stroke-width="6.5" stroke-opacity="0.03" stroke-linecap="round"/>
<path d="M403.1,395.5 L404.5,395.5 L405.8,395.4 L407.2,395.4 L408.5,395.4" fill="none" stroke="#e02a1a" stroke-width="6.5" stroke-opacity="0.03" stroke-linecap="round"/>
<path d="M408.5,395.4 L409.8,395.3 L411.2,395.3 L412.5,395.2 L413.9,395.2" fill="none" stroke="#e02a1a" stroke-width="6.5" stroke-opacity="0.04" stroke-linecap="round"/>
<path d="M413.9,395.2 L415.2,395.1 L416.6,395.1 L417.9,395.0 L419.2,395.0" fill="none" stroke="#e02a1a" stroke-width="6.5" stroke-opacity="0.04" stroke-linecap="round"/>
<path d="M419.2,395.0 L420.6,394.9 L421.9,394.9 L423.3,394.8 L424.6,394.8" fill="none" stroke="#e02a1a" stroke-width="6.5" stroke-opacity="0.05" stroke-linecap="round"/>
<path d="M424.6,394.8 L426.0,394.7 L427.3,394.7 L428.7,394.6 L430.0,394.5" fill="none" stroke="#e02a1a" stroke-width="6.5" stroke-opacity="0.06" stroke-linecap="round"/>
<path d="M430.0,394.5 L431.3,394.5 L432.7,394.4 L434.0,394.3 L435.4,394.3" fill="none" stroke="#e02a1a" stroke-width="6.5" stroke-opacity="0.06" stroke-linecap="round"/>
<path d="M435.4,394.3 L436.7,394.2 L438.1,394.1 L439.4,394.0 L440.8,394.0" fill="none" stroke="#e02a1a" stroke-width="6.5" stroke-opacity="0.07" stroke-linecap="round"/>
<path d="M440.8,394.0 L442.1,393.9 L443.4,393.8 L444.8,393.7 L446.1,393.6" fill="none" stroke="#e02a1a" stroke-width="6.5" stroke-opacity="0.09" stroke-linecap="round"/>
<path d="M446.1,393.6 L447.5,393.5 L448.8,393.4 L450.2,393.3 L451.5,393.2" fill="none" stroke="#e02a1a" stroke-width="6.5" stroke-opacity="0.10" stroke-linecap="round"/>
<path d="M451.5,393.2 L452.8,393.1 L454.2,393.0 L455.5,392.8 L456.9,392.7" fill="none" stroke="#e02a1a" stroke-width="6.5" stroke-opacity="0.12" stroke-linecap="round"/>
<path d="M456.9,392.7 L458.2,392.6 L459.6,392.5 L460.9,392.3 L462.2,392.2" fill="none" stroke="#e02a1a" stroke-width="6.5" stroke-opacity="0.14" stroke-linecap="round"/>
<path d="M462.2,392.2 L463.6,392.0 L464.9,391.8 L466.3,391.7 L467.6,391.5" fill="none" stroke="#e02a1a" stroke-width="6.5" stroke-opacity="0.17" stroke-linecap="round"/>
<path d="M467.6,391.5 L469.0,391.3 L470.3,391.1 L471.7,390.9 L473.0,390.7" fill="none" stroke="#e02a1a" stroke-width="6.5" stroke-opacity="0.21" stroke-linecap="round"/>
<path d="M473.0,390.7 L474.3,390.5 L475.7,390.3 L477.0,390.0 L478.4,389.8" fill="none" stroke="#e02a1a" stroke-width="6.5" stroke-opacity="0.25" stroke-linecap="round"/>
<path d="M478.4,389.8 L479.7,389.5 L481.1,389.2 L482.4,389.0 L483.8,388.7" fill="none" stroke="#e02a1a" stroke-width="6.5" stroke-opacity="0.31" stroke-linecap="round"/>
<path d="M483.8,388.7 L485.1,388.4 L486.4,388.0 L487.8,387.7 L489.1,387.4" fill="none" stroke="#e02a1a" stroke-width="6.5" stroke-opacity="0.37" stroke-linecap="round"/>
<path d="M489.1,387.4 L490.5,387.0 L491.8,386.6 L493.2,386.2 L494.5,385.8" fill="none" stroke="#e02a1a" stroke-width="6.5" stroke-opacity="0.44" stroke-linecap="round"/>
<path d="M494.5,385.8 L495.8,385.4 L497.2,385.0 L498.5,384.5 L499.9,384.0" fill="none" stroke="#e02a1a" stroke-width="6.5" stroke-opacity="0.52" stroke-linecap="round"/>
<path d="M499.9,384.0 L501.2,383.5 L502.6,383.0 L503.9,382.5 L505.2,382.0" fill="none" stroke="#e02a1a" stroke-width="6.5" stroke-opacity="0.59" stroke-linecap="round"/>
<path d="M505.2,382.0 L506.6,381.5 L507.9,380.9 L509.3,380.3 L510.6,379.7" fill="none" stroke="#e02a1a" stroke-width="6.5" stroke-opacity="0.67" stroke-linecap="round"/>
<path d="M510.6,379.7 L512.0,379.1 L513.3,378.5 L514.7,377.9 L516.0,377.2" fill="none" stroke="#e02a1a" stroke-width="6.5" stroke-opacity="0.74" stroke-linecap="round"/>
<path d="M516.0,377.2 L517.3,376.6 L518.7,375.9 L520.0,375.3 L521.4,374.6" fill="none" stroke="#e02a1a" stroke-width="6.5" stroke-opacity="0.80" stroke-linecap="round"/>
<path d="M521.4,374.6 L522.7,373.9 L524.1,373.2 L525.4,372.5 L526.8,371.7" fill="none" stroke="#e02a1a" stroke-width="6.5" stroke-opacity="0.86" stroke-linecap="round"/>
<path d="M526.8,371.7 L528.1,371.0 L529.4,370.3 L530.8,369.5 L532.1,368.8" fill="none" stroke="#e02a1a" stroke-width="6.5" stroke-opacity="0.90" stroke-linecap="round"/>
<path d="M532.1,368.8 L533.5,368.0 L534.8,367.2 L536.2,366.4 L537.5,365.7" fill="none" stroke="#e02a1a" stroke-width="6.5" stroke-opacity="0.94" stroke-linecap="round"/>
<path d="M537.5,365.7 L538.8,364.9 L540.2,364.1 L541.5,363.3 L542.9,362.5" fill="none" stroke="#e02a1a" stroke-width="6.5" stroke-opacity="0.97" stroke-linecap="round"/>
<path d="M542.9,362.5 L544.2,361.7 L545.6,360.9 L546.9,360.1 L548.2,359.2" fill="none" stroke="#e02a1a" stroke-width="6.5" stroke-opacity="1.00" stroke-linecap="round"/>
<path d="M548.2,359.2 L549.6,358.4 L550.9,357.6 L552.3,356.7 L553.6,355.9" fill="none" stroke="#e02a1a" stroke-width="6.5" stroke-opacity="1.00" stroke-linecap="round"/>
<path d="M553.6,355.9 L555.0,355.1 L556.3,354.2 L557.7,353.4 L559.0,352.5" fill="none" stroke="#e02a1a" stroke-width="6.5" stroke-opacity="1.00" stroke-linecap="round"/>
<path d="M559.0,352.5 L560.3,351.7 L561.7,350.8 L563.0,350.0 L564.4,349.1" fill="none" stroke="#e02a1a" stroke-width="6.5" stroke-opacity="1.00" stroke-linecap="round"/>
<path d="M564.4,349.1 L565.7,348.3 L567.1,347.4 L568.4,346.5 L569.8,345.7" fill="none" stroke="#e02a1a" stroke-width="6.5" stroke-opacity="1.00" stroke-linecap="round"/>
<path d="M569.8,345.7 L571.1,344.8 L572.4,343.9 L573.8,343.1 L575.1,342.2" fill="none" stroke="#e02a1a" stroke-width="6.5" stroke-opacity="1.00" stroke-linecap="round"/>
<path d="M575.1,342.2 L576.5,341.3 L577.8,340.5 L579.2,339.6 L580.5,338.7" fill="none" stroke="#e02a1a" stroke-width="6.5" stroke-opacity="1.00" stroke-linecap="round"/>
<path d="M580.5,338.7 L581.8,337.8 L583.2,336.9 L584.5,336.1 L585.9,335.2" fill="none" stroke="#e02a1a" stroke-width="6.5" stroke-opacity="1.00" stroke-linecap="round"/>
<path d="M585.9,335.2 L587.2,334.3 L588.6,333.4 L589.9,332.5 L591.2,331.6" fill="none" stroke="#e02a1a" stroke-width="6.5" stroke-opacity="1.00" stroke-linecap="round"/>
<path d="M591.2,331.6 L592.6,330.8 L593.9,329.9 L595.3,329.0 L596.6,328.1" fill="none" stroke="#e02a1a" stroke-width="6.5" stroke-opacity="1.00" stroke-linecap="round"/>
<path d="M596.6,328.1 L598.0,327.2 L599.3,326.3 L600.7,325.4 L602.0,324.5" fill="none" stroke="#e02a1a" stroke-width="6.5" stroke-opacity="1.00" stroke-linecap="round"/>
</g>
<g filter="url(#bl1)">
<path d="M473.0,390.7 L474.3,390.5 L475.7,390.3 L477.0,390.0 L478.4,389.8" fill="none" stroke="#fa9044" stroke-width="2.8" stroke-opacity="0.02" stroke-linecap="round"/>
<path d="M478.4,389.8 L479.7,389.5 L481.1,389.2 L482.4,389.0 L483.8,388.7" fill="none" stroke="#fa9044" stroke-width="2.8" stroke-opacity="0.04" stroke-linecap="round"/>
<path d="M483.8,388.7 L485.1,388.4 L486.4,388.0 L487.8,387.7 L489.1,387.4" fill="none" stroke="#fa9044" stroke-width="2.8" stroke-opacity="0.06" stroke-linecap="round"/>
<path d="M489.1,387.4 L490.5,387.0 L491.8,386.6 L493.2,386.2 L494.5,385.8" fill="none" stroke="#fa9044" stroke-width="2.8" stroke-opacity="0.10" stroke-linecap="round"/>
<path d="M494.5,385.8 L495.8,385.4 L497.2,385.0 L498.5,384.5 L499.9,384.0" fill="none" stroke="#fa9044" stroke-width="2.8" stroke-opacity="0.15" stroke-linecap="round"/>
<path d="M499.9,384.0 L501.2,383.5 L502.6,383.0 L503.9,382.5 L505.2,382.0" fill="none" stroke="#fa9044" stroke-width="2.8" stroke-opacity="0.21" stroke-linecap="round"/>
<path d="M505.2,382.0 L506.6,381.5 L507.9,380.9 L509.3,380.3 L510.6,379.7" fill="none" stroke="#fa9044" stroke-width="2.8" stroke-opacity="0.29" stroke-linecap="round"/>
<path d="M510.6,379.7 L512.0,379.1 L513.3,378.5 L514.7,377.9 L516.0,377.2" fill="none" stroke="#fa9044" stroke-width="2.8" stroke-opacity="0.38" stroke-linecap="round"/>
<path d="M516.0,377.2 L517.3,376.6 L518.7,375.9 L520.0,375.3 L521.4,374.6" fill="none" stroke="#fa9044" stroke-width="2.8" stroke-opacity="0.46" stroke-linecap="round"/>
<path d="M521.4,374.6 L522.7,373.9 L524.1,373.2 L525.4,372.5 L526.8,371.7" fill="none" stroke="#fa9044" stroke-width="2.8" stroke-opacity="0.55" stroke-linecap="round"/>
<path d="M526.8,371.7 L528.1,371.0 L529.4,370.3 L530.8,369.5 L532.1,368.8" fill="none" stroke="#fa9044" stroke-width="2.8" stroke-opacity="0.62" stroke-linecap="round"/>
<path d="M532.1,368.8 L533.5,368.0 L534.8,367.2 L536.2,366.4 L537.5,365.7" fill="none" stroke="#fa9044" stroke-width="2.8" stroke-opacity="0.69" stroke-linecap="round"/>
<path d="M537.5,365.7 L538.8,364.9 L540.2,364.1 L541.5,363.3 L542.9,362.5" fill="none" stroke="#fa9044" stroke-width="2.8" stroke-opacity="0.75" stroke-linecap="round"/>
<path d="M542.9,362.5 L544.2,361.7 L545.6,360.9 L546.9,360.1 L548.2,359.2" fill="none" stroke="#fa9044" stroke-width="2.8" stroke-opacity="0.80" stroke-linecap="round"/>
<path d="M548.2,359.2 L549.6,358.4 L550.9,357.6 L552.3,356.7 L553.6,355.9" fill="none" stroke="#fa9044" stroke-width="2.8" stroke-opacity="0.85" stroke-linecap="round"/>
<path d="M553.6,355.9 L555.0,355.1 L556.3,354.2 L557.7,353.4 L559.0,352.5" fill="none" stroke="#fa9044" stroke-width="2.8" stroke-opacity="0.88" stroke-linecap="round"/>
<path d="M559.0,352.5 L560.3,351.7 L561.7,350.8 L563.0,350.0 L564.4,349.1" fill="none" stroke="#fa9044" stroke-width="2.8" stroke-opacity="0.91" stroke-linecap="round"/>
<path d="M564.4,349.1 L565.7,348.3 L567.1,347.4 L568.4,346.5 L569.8,345.7" fill="none" stroke="#fa9044" stroke-width="2.8" stroke-opacity="0.94" stroke-linecap="round"/>
<path d="M569.8,345.7 L571.1,344.8 L572.4,343.9 L573.8,343.1 L575.1,342.2" fill="none" stroke="#fa9044" stroke-width="2.8" stroke-opacity="0.96" stroke-linecap="round"/>
<path d="M575.1,342.2 L576.5,341.3 L577.8,340.5 L579.2,339.6 L580.5,338.7" fill="none" stroke="#fa9044" stroke-width="2.8" stroke-opacity="0.98" stroke-linecap="round"/>
<path d="M580.5,338.7 L581.8,337.8 L583.2,336.9 L584.5,336.1 L585.9,335.2" fill="none" stroke="#fa9044" stroke-width="2.8" stroke-opacity="1.00" stroke-linecap="round"/>
<path d="M585.9,335.2 L587.2,334.3 L588.6,333.4 L589.9,332.5 L591.2,331.6" fill="none" stroke="#fa9044" stroke-width="2.8" stroke-opacity="1.00" stroke-linecap="round"/>
<path d="M591.2,331.6 L592.6,330.8 L593.9,329.9 L595.3,329.0 L596.6,328.1" fill="none" stroke="#fa9044" stroke-width="2.8" stroke-opacity="1.00" stroke-linecap="round"/>
<path d="M596.6,328.1 L598.0,327.2 L599.3,326.3 L600.7,325.4 L602.0,324.5" fill="none" stroke="#fa9044" stroke-width="2.8" stroke-opacity="1.00" stroke-linecap="round"/>
</g>
<path d="M387.0,477.6 L388.3,476.7 L389.7,475.8 L391.0,474.9 L392.4,474.0 L393.7,473.1 L395.1,472.2 L396.4,471.3 L397.8,470.4 L399.1,469.5 L400.4,468.6 L401.8,467.7 L403.1,466.9 L404.5,466.0 L405.8,465.1 L407.2,464.2 L408.5,463.3 L409.8,462.4 L411.2,461.5 L412.5,460.7 L413.9,459.8 L415.2,458.9 L416.6,458.0 L417.9,457.1 L419.2,456.3 L420.6,455.4 L421.9,454.5 L423.3,453.6 L424.6,452.8 L426.0,451.9 L427.3,451.0 L428.7,450.2 L430.0,449.3 L431.3,448.5 L432.7,447.6 L434.0,446.7 L435.4,445.9 L436.7,445.0 L438.1,444.2 L439.4,443.3 L440.8,442.5 L442.1,441.6 L443.4,440.8 L444.8,440.0 L446.1,439.1 L447.5,438.3 L448.8,437.5 L450.2,436.7 L451.5,435.8 L452.8,435.0 L454.2,434.2 L455.5,433.4 L456.9,432.6 L458.2,431.8 L459.6,431.0 L460.9,430.3 L462.2,429.5 L463.6,428.7 L464.9,428.0 L466.3,427.2 L467.6,426.4 L469.0,425.7 L470.3,425.0 L471.7,424.2 L473.0,423.5 L474.3,422.8 L475.7,422.1 L477.0,421.4 L478.4,420.8 L479.7,420.1 L481.1,419.4 L482.4,418.8 L483.8,418.2 L485.1,417.6 L486.4,416.9 L487.8,416.4 L489.1,415.8 L490.5,415.2 L491.8,414.7 L493.2,414.1 L494.5,413.6 L495.8,413.1 L497.2,412.6 L498.5,412.2 L499.9,411.7 L501.2,411.3 L502.6,410.8 L503.9,410.4 L505.2,410.0 L506.6,409.7 L507.9,409.3 L509.3,408.9 L510.6,408.6 L512.0,408.3 L513.3,408.0 L514.7,407.7 L516.0,407.4 L517.3,407.1 L518.7,406.8 L520.0,406.6 L521.4,406.4 L522.7,406.1 L524.1,405.9 L525.4,405.7 L526.8,405.5 L528.1,405.3 L529.4,405.1 L530.8,404.9 L532.1,404.8 L533.5,404.6 L534.8,404.5 L536.2,404.3 L537.5,404.2 L538.8,404.0 L540.2,403.9 L541.5,403.8 L542.9,403.6 L544.2,403.5 L545.6,403.4 L546.9,403.3 L548.2,403.2 L549.6,403.1 L550.9,403.0 L552.3,402.9 L553.6,402.8 L555.0,402.7 L556.3,402.6 L557.7,402.6 L559.0,402.5 L560.3,402.4 L561.7,402.3 L563.0,402.3 L564.4,402.2 L565.7,402.1 L567.1,402.1 L568.4,402.0 L569.8,401.9 L571.1,401.9 L572.4,401.8 L573.8,401.8 L575.1,401.7 L576.5,401.7 L577.8,401.6 L579.2,401.6 L580.5,401.5 L581.8,401.5 L583.2,401.4 L584.5,401.4 L585.9,401.3 L587.2,401.3 L588.6,401.2 L589.9,401.2 L591.2,401.2 L592.6,401.1 L593.9,401.1 L595.3,401.1 L596.6,401.0 L598.0,401.0 L599.3,401.0 L600.7,400.9 L602.0,400.9" fill="none" stroke="url(#gl)" stroke-width="14" filter="url(#bl12)"/>
<g filter="url(#bl6)">
<path d="M387.0,477.6 L388.3,476.7 L389.7,475.8 L391.0,474.9 L392.4,474.0" fill="none" stroke="#900e12" stroke-width="15.0" stroke-opacity="1.00" stroke-linecap="round"/>
<path d="M392.4,474.0 L393.7,473.1 L395.1,472.2 L396.4,471.3 L397.8,470.4" fill="none" stroke="#900e12" stroke-width="15.0" stroke-opacity="1.00" stroke-linecap="round"/>
<path d="M397.8,470.4 L399.1,469.5 L400.4,468.6 L401.8,467.7 L403.1,466.9" fill="none" stroke="#900e12" stroke-width="15.0" stroke-opacity="1.00" stroke-linecap="round"/>
<path d="M403.1,466.9 L404.5,466.0 L405.8,465.1 L407.2,464.2 L408.5,463.3" fill="none" stroke="#900e12" stroke-width="15.0" stroke-opacity="1.00" stroke-linecap="round"/>
<path d="M408.5,463.3 L409.8,462.4 L411.2,461.5 L412.5,460.7 L413.9,459.8" fill="none" stroke="#900e12" stroke-width="15.0" stroke-opacity="1.00" stroke-linecap="round"/>
<path d="M413.9,459.8 L415.2,458.9 L416.6,458.0 L417.9,457.1 L419.2,456.3" fill="none" stroke="#900e12" stroke-width="15.0" stroke-opacity="1.00" stroke-linecap="round"/>
<path d="M419.2,456.3 L420.6,455.4 L421.9,454.5 L423.3,453.6 L424.6,452.8" fill="none" stroke="#900e12" stroke-width="15.0" stroke-opacity="1.00" stroke-linecap="round"/>
<path d="M424.6,452.8 L426.0,451.9 L427.3,451.0 L428.7,450.2 L430.0,449.3" fill="none" stroke="#900e12" stroke-width="15.0" stroke-opacity="1.00" stroke-linecap="round"/>
<path d="M430.0,449.3 L431.3,448.5 L432.7,447.6 L434.0,446.7 L435.4,445.9" fill="none" stroke="#900e12" stroke-width="15.0" stroke-opacity="1.00" stroke-linecap="round"/>
<path d="M435.4,445.9 L436.7,445.0 L438.1,444.2 L439.4,443.3 L440.8,442.5" fill="none" stroke="#900e12" stroke-width="15.0" stroke-opacity="1.00" stroke-linecap="round"/>
<path d="M440.8,442.5 L442.1,441.6 L443.4,440.8 L444.8,440.0 L446.1,439.1" fill="none" stroke="#900e12" stroke-width="15.0" stroke-opacity="1.00" stroke-linecap="round"/>
<path d="M446.1,439.1 L447.5,438.3 L448.8,437.5 L450.2,436.7 L451.5,435.8" fill="none" stroke="#900e12" stroke-width="15.0" stroke-opacity="1.00" stroke-linecap="round"/>
<path d="M451.5,435.8 L452.8,435.0 L454.2,434.2 L455.5,433.4 L456.9,432.6" fill="none" stroke="#900e12" stroke-width="15.0" stroke-opacity="1.00" stroke-linecap="round"/>
<path d="M456.9,432.6 L458.2,431.8 L459.6,431.0 L460.9,430.3 L462.2,429.5" fill="none" stroke="#900e12" stroke-width="15.0" stroke-opacity="1.00" stroke-linecap="round"/>
<path d="M462.2,429.5 L463.6,428.7 L464.9,428.0 L466.3,427.2 L467.6,426.4" fill="none" stroke="#900e12" stroke-width="15.0" stroke-opacity="0.97" stroke-linecap="round"/>
<path d="M467.6,426.4 L469.0,425.7 L470.3,425.0 L471.7,424.2 L473.0,423.5" fill="none" stroke="#900e12" stroke-width="15.0" stroke-opacity="0.94" stroke-linecap="round"/>
<path d="M473.0,423.5 L474.3,422.8 L475.7,422.1 L477.0,421.4 L478.4,420.8" fill="none" stroke="#900e12" stroke-width="15.0" stroke-opacity="0.90" stroke-linecap="round"/>
<path d="M478.4,420.8 L479.7,420.1 L481.1,419.4 L482.4,418.8 L483.8,418.2" fill="none" stroke="#900e12" stroke-width="15.0" stroke-opacity="0.85" stroke-linecap="round"/>
<path d="M483.8,418.2 L485.1,417.6 L486.4,416.9 L487.8,416.4 L489.1,415.8" fill="none" stroke="#900e12" stroke-width="15.0" stroke-opacity="0.79" stroke-linecap="round"/>
<path d="M489.1,415.8 L490.5,415.2 L491.8,414.7 L493.2,414.1 L494.5,413.6" fill="none" stroke="#900e12" stroke-width="15.0" stroke-opacity="0.73" stroke-linecap="round"/>
<path d="M494.5,413.6 L495.8,413.1 L497.2,412.6 L498.5,412.2 L499.9,411.7" fill="none" stroke="#900e12" stroke-width="15.0" stroke-opacity="0.66" stroke-linecap="round"/>
<path d="M499.9,411.7 L501.2,411.3 L502.6,410.8 L503.9,410.4 L505.2,410.0" fill="none" stroke="#900e12" stroke-width="15.0" stroke-opacity="0.59" stroke-linecap="round"/>
<path d="M505.2,410.0 L506.6,409.7 L507.9,409.3 L509.3,408.9 L510.6,408.6" fill="none" stroke="#900e12" stroke-width="15.0" stroke-opacity="0.51" stroke-linecap="round"/>
<path d="M510.6,408.6 L512.0,408.3 L513.3,408.0 L514.7,407.7 L516.0,407.4" fill="none" stroke="#900e12" stroke-width="15.0" stroke-opacity="0.45" stroke-linecap="round"/>
<path d="M516.0,407.4 L517.3,407.1 L518.7,406.8 L520.0,406.6 L521.4,406.4" fill="none" stroke="#900e12" stroke-width="15.0" stroke-opacity="0.39" stroke-linecap="round"/>
<path d="M521.4,406.4 L522.7,406.1 L524.1,405.9 L525.4,405.7 L526.8,405.5" fill="none" stroke="#900e12" stroke-width="15.0" stroke-opacity="0.33" stroke-linecap="round"/>
<path d="M526.8,405.5 L528.1,405.3 L529.4,405.1 L530.8,404.9 L532.1,404.8" fill="none" stroke="#900e12" stroke-width="15.0" stroke-opacity="0.29" stroke-linecap="round"/>
<path d="M532.1,404.8 L533.5,404.6 L534.8,404.5 L536.2,404.3 L537.5,404.2" fill="none" stroke="#900e12" stroke-width="15.0" stroke-opacity="0.25" stroke-linecap="round"/>
<path d="M537.5,404.2 L538.8,404.0 L540.2,403.9 L541.5,403.8 L542.9,403.6" fill="none" stroke="#900e12" stroke-width="15.0" stroke-opacity="0.22" stroke-linecap="round"/>
<path d="M542.9,403.6 L544.2,403.5 L545.6,403.4 L546.9,403.3 L548.2,403.2" fill="none" stroke="#900e12" stroke-width="15.0" stroke-opacity="0.19" stroke-linecap="round"/>
<path d="M548.2,403.2 L549.6,403.1 L550.9,403.0 L552.3,402.9 L553.6,402.8" fill="none" stroke="#900e12" stroke-width="15.0" stroke-opacity="0.17" stroke-linecap="round"/>
<path d="M553.6,402.8 L555.0,402.7 L556.3,402.6 L557.7,402.6 L559.0,402.5" fill="none" stroke="#900e12" stroke-width="15.0" stroke-opacity="0.15" stroke-linecap="round"/>
<path d="M559.0,402.5 L560.3,402.4 L561.7,402.3 L563.0,402.3 L564.4,402.2" fill="none" stroke="#900e12" stroke-width="15.0" stroke-opacity="0.13" stroke-linecap="round"/>
<path d="M564.4,402.2 L565.7,402.1 L567.1,402.1 L568.4,402.0 L569.8,401.9" fill="none" stroke="#900e12" stroke-width="15.0" stroke-opacity="0.12" stroke-linecap="round"/>
<path d="M569.8,401.9 L571.1,401.9 L572.4,401.8 L573.8,401.8 L575.1,401.7" fill="none" stroke="#900e12" stroke-width="15.0" stroke-opacity="0.11" stroke-linecap="round"/>
<path d="M575.1,401.7 L576.5,401.7 L577.8,401.6 L579.2,401.6 L580.5,401.5" fill="none" stroke="#900e12" stroke-width="15.0" stroke-opacity="0.10" stroke-linecap="round"/>
<path d="M580.5,401.5 L581.8,401.5 L583.2,401.4 L584.5,401.4 L585.9,401.3" fill="none" stroke="#900e12" stroke-width="15.0" stroke-opacity="0.09" stroke-linecap="round"/>
<path d="M585.9,401.3 L587.2,401.3 L588.6,401.2 L589.9,401.2 L591.2,401.2" fill="none" stroke="#900e12" stroke-width="15.0" stroke-opacity="0.08" stroke-linecap="round"/>
<path d="M591.2,401.2 L592.6,401.1 L593.9,401.1 L595.3,401.1 L596.6,401.0" fill="none" stroke="#900e12" stroke-width="15.0" stroke-opacity="0.07" stroke-linecap="round"/>
<path d="M596.6,401.0 L598.0,401.0 L599.3,401.0 L600.7,400.9 L602.0,400.9" fill="none" stroke="#900e12" stroke-width="15.0" stroke-opacity="0.07" stroke-linecap="round"/>
</g>
<g filter="url(#bl2)">
<path d="M387.0,477.6 L388.3,476.7 L389.7,475.8 L391.0,474.9 L392.4,474.0" fill="none" stroke="#e02a1a" stroke-width="6.5" stroke-opacity="1.00" stroke-linecap="round"/>
<path d="M392.4,474.0 L393.7,473.1 L395.1,472.2 L396.4,471.3 L397.8,470.4" fill="none" stroke="#e02a1a" stroke-width="6.5" stroke-opacity="1.00" stroke-linecap="round"/>
<path d="M397.8,470.4 L399.1,469.5 L400.4,468.6 L401.8,467.7 L403.1,466.9" fill="none" stroke="#e02a1a" stroke-width="6.5" stroke-opacity="1.00" stroke-linecap="round"/>
<path d="M403.1,466.9 L404.5,466.0 L405.8,465.1 L407.2,464.2 L408.5,463.3" fill="none" stroke="#e02a1a" stroke-width="6.5" stroke-opacity="1.00" stroke-linecap="round"/>
<path d="M408.5,463.3 L409.8,462.4 L411.2,461.5 L412.5,460.7 L413.9,459.8" fill="none" stroke="#e02a1a" stroke-width="6.5" stroke-opacity="1.00" stroke-linecap="round"/>
<path d="M413.9,459.8 L415.2,458.9 L416.6,458.0 L417.9,457.1 L419.2,456.3" fill="none" stroke="#e02a1a" stroke-width="6.5" stroke-opacity="1.00" stroke-linecap="round"/>
<path d="M419.2,456.3 L420.6,455.4 L421.9,454.5 L423.3,453.6 L424.6,452.8" fill="none" stroke="#e02a1a" stroke-width="6.5" stroke-opacity="1.00" stroke-linecap="round"/>
<path d="M424.6,452.8 L426.0,451.9 L427.3,451.0 L428.7,450.2 L430.0,449.3" fill="none" stroke="#e02a1a" stroke-width="6.5" stroke-opacity="1.00" stroke-linecap="round"/>
<path d="M430.0,449.3 L431.3,448.5 L432.7,447.6 L434.0,446.7 L435.4,445.9" fill="none" stroke="#e02a1a" stroke-width="6.5" stroke-opacity="1.00" stroke-linecap="round"/>
<path d="M435.4,445.9 L436.7,445.0 L438.1,444.2 L439.4,443.3 L440.8,442.5" fill="none" stroke="#e02a1a" stroke-width="6.5" stroke-opacity="1.00" stroke-linecap="round"/>
<path d="M440.8,442.5 L442.1,441.6 L443.4,440.8 L444.8,440.0 L446.1,439.1" fill="none" stroke="#e02a1a" stroke-width="6.5" stroke-opacity="1.00" stroke-linecap="round"/>
<path d="M446.1,439.1 L447.5,438.3 L448.8,437.5 L450.2,436.7 L451.5,435.8" fill="none" stroke="#e02a1a" stroke-width="6.5" stroke-opacity="1.00" stroke-linecap="round"/>
<path d="M451.5,435.8 L452.8,435.0 L454.2,434.2 L455.5,433.4 L456.9,432.6" fill="none" stroke="#e02a1a" stroke-width="6.5" stroke-opacity="0.99" stroke-linecap="round"/>
<path d="M456.9,432.6 L458.2,431.8 L459.6,431.0 L460.9,430.3 L462.2,429.5" fill="none" stroke="#e02a1a" stroke-width="6.5" stroke-opacity="0.96" stroke-linecap="round"/>
<path d="M462.2,429.5 L463.6,428.7 L464.9,428.0 L466.3,427.2 L467.6,426.4" fill="none" stroke="#e02a1a" stroke-width="6.5" stroke-opacity="0.93" stroke-linecap="round"/>
<path d="M467.6,426.4 L469.0,425.7 L470.3,425.0 L471.7,424.2 L473.0,423.5" fill="none" stroke="#e02a1a" stroke-width="6.5" stroke-opacity="0.88" stroke-linecap="round"/>
<path d="M473.0,423.5 L474.3,422.8 L475.7,422.1 L477.0,421.4 L478.4,420.8" fill="none" stroke="#e02a1a" stroke-width="6.5" stroke-opacity="0.84" stroke-linecap="round"/>
<path d="M478.4,420.8 L479.7,420.1 L481.1,419.4 L482.4,418.8 L483.8,418.2" fill="none" stroke="#e02a1a" stroke-width="6.5" stroke-opacity="0.78" stroke-linecap="round"/>
<path d="M483.8,418.2 L485.1,417.6 L486.4,416.9 L487.8,416.4 L489.1,415.8" fill="none" stroke="#e02a1a" stroke-width="6.5" stroke-opacity="0.71" stroke-linecap="round"/>
<path d="M489.1,415.8 L490.5,415.2 L491.8,414.7 L493.2,414.1 L494.5,413.6" fill="none" stroke="#e02a1a" stroke-width="6.5" stroke-opacity="0.64" stroke-linecap="round"/>
<path d="M494.5,413.6 L495.8,413.1 L497.2,412.6 L498.5,412.2 L499.9,411.7" fill="none" stroke="#e02a1a" stroke-width="6.5" stroke-opacity="0.56" stroke-linecap="round"/>
<path d="M499.9,411.7 L501.2,411.3 L502.6,410.8 L503.9,410.4 L505.2,410.0" fill="none" stroke="#e02a1a" stroke-width="6.5" stroke-opacity="0.48" stroke-linecap="round"/>
<path d="M505.2,410.0 L506.6,409.7 L507.9,409.3 L509.3,408.9 L510.6,408.6" fill="none" stroke="#e02a1a" stroke-width="6.5" stroke-opacity="0.41" stroke-linecap="round"/>
<path d="M510.6,408.6 L512.0,408.3 L513.3,408.0 L514.7,407.7 L516.0,407.4" fill="none" stroke="#e02a1a" stroke-width="6.5" stroke-opacity="0.34" stroke-linecap="round"/>
<path d="M516.0,407.4 L517.3,407.1 L518.7,406.8 L520.0,406.6 L521.4,406.4" fill="none" stroke="#e02a1a" stroke-width="6.5" stroke-opacity="0.28" stroke-linecap="round"/>
<path d="M521.4,406.4 L522.7,406.1 L524.1,405.9 L525.4,405.7 L526.8,405.5" fill="none" stroke="#e02a1a" stroke-width="6.5" stroke-opacity="0.23" stroke-linecap="round"/>
<path d="M526.8,405.5 L528.1,405.3 L529.4,405.1 L530.8,404.9 L532.1,404.8" fill="none" stroke="#e02a1a" stroke-width="6.5" stroke-opacity="0.19" stroke-linecap="round"/>
<path d="M532.1,404.8 L533.5,404.6 L534.8,404.5 L536.2,404.3 L537.5,404.2" fill="none" stroke="#e02a1a" stroke-width="6.5" stroke-opacity="0.16" stroke-linecap="round"/>
<path d="M537.5,404.2 L538.8,404.0 L540.2,403.9 L541.5,403.8 L542.9,403.6" fill="none" stroke="#e02a1a" stroke-width="6.5" stroke-opacity="0.13" stroke-linecap="round"/>
<path d="M542.9,403.6 L544.2,403.5 L545.6,403.4 L546.9,403.3 L548.2,403.2" fill="none" stroke="#e02a1a" stroke-width="6.5" stroke-opacity="0.11" stroke-linecap="round"/>
<path d="M548.2,403.2 L549.6,403.1 L550.9,403.0 L552.3,402.9 L553.6,402.8" fill="none" stroke="#e02a1a" stroke-width="6.5" stroke-opacity="0.10" stroke-linecap="round"/>
<path d="M553.6,402.8 L555.0,402.7 L556.3,402.6 L557.7,402.6 L559.0,402.5" fill="none" stroke="#e02a1a" stroke-width="6.5" stroke-opacity="0.08" stroke-linecap="round"/>
<path d="M559.0,402.5 L560.3,402.4 L561.7,402.3 L563.0,402.3 L564.4,402.2" fill="none" stroke="#e02a1a" stroke-width="6.5" stroke-opacity="0.07" stroke-linecap="round"/>
<path d="M564.4,402.2 L565.7,402.1 L567.1,402.1 L568.4,402.0 L569.8,401.9" fill="none" stroke="#e02a1a" stroke-width="6.5" stroke-opacity="0.06" stroke-linecap="round"/>
<path d="M569.8,401.9 L571.1,401.9 L572.4,401.8 L573.8,401.8 L575.1,401.7" fill="none" stroke="#e02a1a" stroke-width="6.5" stroke-opacity="0.05" stroke-linecap="round"/>
<path d="M575.1,401.7 L576.5,401.7 L577.8,401.6 L579.2,401.6 L580.5,401.5" fill="none" stroke="#e02a1a" stroke-width="6.5" stroke-opacity="0.05" stroke-linecap="round"/>
<path d="M580.5,401.5 L581.8,401.5 L583.2,401.4 L584.5,401.4 L585.9,401.3" fill="none" stroke="#e02a1a" stroke-width="6.5" stroke-opacity="0.04" stroke-linecap="round"/>
<path d="M585.9,401.3 L587.2,401.3 L588.6,401.2 L589.9,401.2 L591.2,401.2" fill="none" stroke="#e02a1a" stroke-width="6.5" stroke-opacity="0.04" stroke-linecap="round"/>
<path d="M591.2,401.2 L592.6,401.1 L593.9,401.1 L595.3,401.1 L596.6,401.0" fill="none" stroke="#e02a1a" stroke-width="6.5" stroke-opacity="0.03" stroke-linecap="round"/>
<path d="M596.6,401.0 L598.0,401.0 L599.3,401.0 L600.7,400.9 L602.0,400.9" fill="none" stroke="#e02a1a" stroke-width="6.5" stroke-opacity="0.03" stroke-linecap="round"/>
</g>
<g filter="url(#bl1)">
<path d="M387.0,477.6 L388.3,476.7 L389.7,475.8 L391.0,474.9 L392.4,474.0" fill="none" stroke="#fa9044" stroke-width="2.8" stroke-opacity="1.00" stroke-linecap="round"/>
<path d="M392.4,474.0 L393.7,473.1 L395.1,472.2 L396.4,471.3 L397.8,470.4" fill="none" stroke="#fa9044" stroke-width="2.8" stroke-opacity="1.00" stroke-linecap="round"/>
<path d="M397.8,470.4 L399.1,469.5 L400.4,468.6 L401.8,467.7 L403.1,466.9" fill="none" stroke="#fa9044" stroke-width="2.8" stroke-opacity="1.00" stroke-linecap="round"/>
<path d="M403.1,466.9 L404.5,466.0 L405.8,465.1 L407.2,464.2 L408.5,463.3" fill="none" stroke="#fa9044" stroke-width="2.8" stroke-opacity="1.00" stroke-linecap="round"/>
<path d="M408.5,463.3 L409.8,462.4 L411.2,461.5 L412.5,460.7 L413.9,459.8" fill="none" stroke="#fa9044" stroke-width="2.8" stroke-opacity="1.00" stroke-linecap="round"/>
<path d="M413.9,459.8 L415.2,458.9 L416.6,458.0 L417.9,457.1 L419.2,456.3" fill="none" stroke="#fa9044" stroke-width="2.8" stroke-opacity="0.99" stroke-linecap="round"/>
<path d="M419.2,456.3 L420.6,455.4 L421.9,454.5 L423.3,453.6 L424.6,452.8" fill="none" stroke="#fa9044" stroke-width="2.8" stroke-opacity="0.98" stroke-linecap="round"/>
<path d="M424.6,452.8 L426.0,451.9 L427.3,451.0 L428.7,450.2 L430.0,449.3" fill="none" stroke="#fa9044" stroke-width="2.8" stroke-opacity="0.95" stroke-linecap="round"/>
<path d="M430.0,449.3 L431.3,448.5 L432.7,447.6 L434.0,446.7 L435.4,445.9" fill="none" stroke="#fa9044" stroke-width="2.8" stroke-opacity="0.93" stroke-linecap="round"/>
<path d="M435.4,445.9 L436.7,445.0 L438.1,444.2 L439.4,443.3 L440.8,442.5" fill="none" stroke="#fa9044" stroke-width="2.8" stroke-opacity="0.90" stroke-linecap="round"/>
<path d="M440.8,442.5 L442.1,441.6 L443.4,440.8 L444.8,440.0 L446.1,439.1" fill="none" stroke="#fa9044" stroke-width="2.8" stroke-opacity="0.87" stroke-linecap="round"/>
<path d="M446.1,439.1 L447.5,438.3 L448.8,437.5 L450.2,436.7 L451.5,435.8" fill="none" stroke="#fa9044" stroke-width="2.8" stroke-opacity="0.83" stroke-linecap="round"/>
<path d="M451.5,435.8 L452.8,435.0 L454.2,434.2 L455.5,433.4 L456.9,432.6" fill="none" stroke="#fa9044" stroke-width="2.8" stroke-opacity="0.78" stroke-linecap="round"/>
<path d="M456.9,432.6 L458.2,431.8 L459.6,431.0 L460.9,430.3 L462.2,429.5" fill="none" stroke="#fa9044" stroke-width="2.8" stroke-opacity="0.73" stroke-linecap="round"/>
<path d="M462.2,429.5 L463.6,428.7 L464.9,428.0 L466.3,427.2 L467.6,426.4" fill="none" stroke="#fa9044" stroke-width="2.8" stroke-opacity="0.66" stroke-linecap="round"/>
<path d="M467.6,426.4 L469.0,425.7 L470.3,425.0 L471.7,424.2 L473.0,423.5" fill="none" stroke="#fa9044" stroke-width="2.8" stroke-opacity="0.59" stroke-linecap="round"/>
<path d="M473.0,423.5 L474.3,422.8 L475.7,422.1 L477.0,421.4 L478.4,420.8" fill="none" stroke="#fa9044" stroke-width="2.8" stroke-opacity="0.51" stroke-linecap="round"/>
<path d="M478.4,420.8 L479.7,420.1 L481.1,419.4 L482.4,418.8 L483.8,418.2" fill="none" stroke="#fa9044" stroke-width="2.8" stroke-opacity="0.42" stroke-linecap="round"/>
<path d="M483.8,418.2 L485.1,417.6 L486.4,416.9 L487.8,416.4 L489.1,415.8" fill="none" stroke="#fa9044" stroke-width="2.8" stroke-opacity="0.34" stroke-linecap="round"/>
<path d="M489.1,415.8 L490.5,415.2 L491.8,414.7 L493.2,414.1 L494.5,413.6" fill="none" stroke="#fa9044" stroke-width="2.8" stroke-opacity="0.25" stroke-linecap="round"/>
<path d="M494.5,413.6 L495.8,413.1 L497.2,412.6 L498.5,412.2 L499.9,411.7" fill="none" stroke="#fa9044" stroke-width="2.8" stroke-opacity="0.18" stroke-linecap="round"/>
<path d="M499.9,411.7 L501.2,411.3 L502.6,410.8 L503.9,410.4 L505.2,410.0" fill="none" stroke="#fa9044" stroke-width="2.8" stroke-opacity="0.12" stroke-linecap="round"/>
<path d="M505.2,410.0 L506.6,409.7 L507.9,409.3 L509.3,408.9 L510.6,408.6" fill="none" stroke="#fa9044" stroke-width="2.8" stroke-opacity="0.08" stroke-linecap="round"/>
<path d="M510.6,408.6 L512.0,408.3 L513.3,408.0 L514.7,407.7 L516.0,407.4" fill="none" stroke="#fa9044" stroke-width="2.8" stroke-opacity="0.05" stroke-linecap="round"/>
<path d="M516.0,407.4 L517.3,407.1 L518.7,406.8 L520.0,406.6 L521.4,406.4" fill="none" stroke="#fa9044" stroke-width="2.8" stroke-opacity="0.03" stroke-linecap="round"/>
</g>
</g>
<rect x="393.0" y="396.2" width="203.0" height="5.6" fill="#5c4a48"/>
<rect x="401.8" y="331.0" width="63.5" height="36.8" fill="#fdfdfd"/><rect x="406.5" y="335.3" width="54.4" height="10.4" fill="url(#cb)"/><line x1="460.3" y1="345.7" x2="460.3" y2="351.2" stroke="#555" stroke-width="0.9"/><line x1="449.8" y1="345.7" x2="449.8" y2="348.7" stroke="#555" stroke-width="0.9"/><line x1="439.3" y1="345.7" x2="439.3" y2="351.2" stroke="#555" stroke-width="0.9"/><line x1="428.8" y1="345.7" x2="428.8" y2="348.7" stroke="#555" stroke-width="0.9"/><line x1="418.3" y1="345.7" x2="418.3" y2="351.2" stroke="#555" stroke-width="0.9"/><line x1="407.8" y1="345.7" x2="407.8" y2="348.7" stroke="#555" stroke-width="0.9"/><text x="460.3" y="364.0" font-size="9.5" text-anchor="middle">0</text><text x="437.8" y="364.0" font-size="9.5" text-anchor="middle">-2</text><text x="416.8" y="364.0" font-size="9.5" text-anchor="middle">-4</text><text x="403.3" y="385.0" font-size="16.2" style="fill:#e2dddd;stroke:#e2dddd">|S<tspan font-size="10" dy="3.5">21</tspan><tspan dy="-3.5">| (dB)</tspan></text>
<line x1="384.5" y1="343.6" x2="393.0" y2="343.6" stroke="#444" stroke-width="1.5"/><text x="375.5" y="350.2" font-size="20" text-anchor="end">3.42</text><line x1="384.5" y1="399.0" x2="393.0" y2="399.0" stroke="#444" stroke-width="1.5"/><text x="375.5" y="405.6" font-size="20" text-anchor="end">3.40</text><line x1="384.5" y1="454.5" x2="393.0" y2="454.5" stroke="#444" stroke-width="1.5"/><text x="375.5" y="461.1" font-size="20" text-anchor="end">3.38</text><line x1="393.0" y1="468.0" x2="393.0" y2="472.5" stroke="#444" stroke-width="1.5"/><line x1="443.8" y1="468.0" x2="443.8" y2="476.5" stroke="#444" stroke-width="1.5"/><text x="444.2" y="495" font-size="20" text-anchor="middle">116.0</text><line x1="494.5" y1="468.0" x2="494.5" y2="472.5" stroke="#444" stroke-width="1.5"/><line x1="545.2" y1="468.0" x2="545.2" y2="476.5" stroke="#444" stroke-width="1.5"/><text x="545.8" y="495" font-size="20" text-anchor="middle">117.0</text><line x1="596.0" y1="468.0" x2="596.0" y2="472.5" stroke="#444" stroke-width="1.5"/><text x="496.0" y="517.5" font-size="20" text-anchor="middle">μ<tspan font-size="13" dy="5">0</tspan><tspan dy="-5">H</tspan><tspan font-size="13" dy="5">ext</tspan><tspan dy="-5"> (mT)</tspan></text><text transform="translate(334.0,399) rotate(-90)" font-size="20.3" letter-spacing="0.3" text-anchor="middle">ω/2π  (GHz)</text>
<text x="671.4" y="47.8" font-size="24" stroke="#2e2e2e" stroke-width="0.3">(c)</text>
<polyline points="773.4,170.8 773.4,165.4 773.4,163.2 773.4,161.5 773.4,160.1 773.4,158.8 773.4,157.6 773.5,156.6 773.5,155.6 773.5,154.7 773.5,153.8 773.6,153.0 773.6,152.2 773.6,151.4 773.6,150.7 773.7,150.0 773.7,149.3 773.8,148.7 773.8,148.0 773.9,147.4 773.9,146.8 774.0,146.2 774.0,145.6 774.1,145.0 774.1,144.5 774.2,143.9 774.2,143.4 774.3,142.9 774.4,142.4 774.5,141.9 774.5,141.4 774.6,140.9 774.7,140.4 774.8,140.0 774.9,139.5 774.9,139.0 775.0,138.6 775.1,138.1 775.2,137.7 775.3,137.3 775.4,136.8 775.5,136.4 775.6,136.0 775.7,135.6 775.8,135.2 775.9,134.8 776.1,134.4 776.2,134.0 776.3,133.6 776.4,133.2 776.5,132.8 776.7,132.4 776.8,132.1 776.9,131.7 777.1,131.3 777.2,131.0 777.3,130.6 777.5,130.3 777.6,129.9 777.8,129.6 777.9,129.2 778.1,128.9 778.2,128.5 778.4,128.2 778.5,127.8 778.7,127.5 778.9,127.2 779.0,126.8 779.2,126.5 779.4,126.2 779.5,125.9 779.7,125.6 779.9,125.2 780.1,124.9 780.3,124.6 780.5,124.3 780.6,124.0 780.8,123.7 781.0,123.4 781.2,123.1 781.4,122.8 781.6,122.5 781.8,122.2 782.0,121.9 782.3,121.6 782.5,121.3 782.7,121.0 782.9,120.7 783.1,120.4 783.3,120.1 783.6,119.9 783.8,119.6 784.0,119.3 784.3,119.0 784.5,118.7 784.7,118.5 785.0,118.2 785.2,117.9 785.5,117.6 785.7,117.4 785.9,117.1 786.2,116.8 786.5,116.6 786.7,116.3 787.0,116.0 787.2,115.8 787.5,115.5 787.8,115.3 788.0,115.0 788.3,114.7 788.6,114.5 788.9,114.2 789.1,114.0 789.4,113.7 789.7,113.5 790.0,113.2 790.3,113.0 790.6,112.7 790.9,112.5 791.2,112.2 791.5,112.0 791.8,111.7 792.1,111.5 792.4,111.2 792.7,111.0 793.0,110.8 793.3,110.5 793.6,110.3 794.0,110.0 794.3,109.8 794.6,109.6 794.9,109.3 795.3,109.1 795.6,108.9 795.9,108.6 796.3,108.4 796.6,108.2 797.0,107.9 797.3,107.7 797.6,107.5 798.0,107.3 798.4,107.0 798.7,106.8 799.1,106.6 799.4,106.4 799.8,106.1 800.2,105.9 800.5,105.7 800.9,105.5 801.3,105.2 801.6,105.0 802.0,104.8 802.4,104.6 802.8,104.4 803.2,104.2 803.6,103.9 803.9,103.7 804.3,103.5 804.7,103.3 805.1,103.1 805.5,102.9 805.9,102.7 806.3,102.4 806.7,102.2 807.2,102.0 807.6,101.8 808.0,101.6 808.4,101.4 808.8,101.2 809.2,101.0 809.7,100.8 810.1,100.6 810.5,100.4 811.0,100.2 811.4,100.0 811.8,99.8 812.3,99.6 812.7,99.4 813.2,99.2 813.6,99.0 814.1,98.8 814.5,98.6 815.0,98.4 815.4,98.2 815.9,98.0 816.4,97.8 816.8,97.6 817.3,97.4 817.8,97.2 818.2,97.0 818.7,96.8 819.2,96.6 819.7,96.4 820.1,96.2 820.6,96.0 821.1,95.8 821.6,95.6 822.1,95.4 822.6,95.2 823.1,95.0 823.6,94.9 824.1,94.7 824.6,94.5 825.1,94.3 825.6,94.1 826.1,93.9 826.7,93.7 827.2,93.5 827.7,93.4 828.2,93.2 828.7,93.0 829.3,92.8 829.8,92.6 830.3,92.4 830.9,92.2 831.4,92.1 832.0,91.9 832.5,91.7 833.0,91.5 833.6,91.3 834.1,91.1 834.7,91.0 835.3,90.8 835.8,90.6 836.4,90.4 836.9,90.2 837.5,90.1 838.1,89.9 838.6,89.7 839.2,89.5 839.8,89.4 840.4,89.2 840.9,89.0 841.5,88.8 842.1,88.7 842.7,88.5 843.3,88.3 843.9,88.1 844.5,88.0 845.1,87.8 845.7,87.6 846.3,87.4 846.9,87.3 847.5,87.1 848.1,86.9 848.7,86.7 849.3,86.6 850.0,86.4 850.6,86.2 851.2,86.1 851.8,85.9 852.5,85.7 853.1,85.6 853.7,85.4 854.4,85.2 855.0,85.0 855.6,84.9 856.3,84.7 856.9,84.5 857.6,84.4 858.2,84.2 858.9,84.0 859.5,83.9 860.2,83.7 860.9,83.5 861.5,83.4 862.2,83.2 862.9,83.1 863.5,82.9 864.2,82.7 864.9,82.6 865.6,82.4 866.2,82.2 866.9,82.1 867.6,81.9 868.3,81.7 869.0,81.6 869.7,81.4 870.4,81.3 871.1,81.1 871.8,80.9 872.5,80.8 873.2,80.6 873.9,80.5 874.6,80.3 875.3,80.1 876.1,80.0 876.8,79.8 877.5,79.7 878.2,79.5 878.9,79.3 879.7,79.2 880.4,79.0 881.1,78.9 881.9,78.7 882.6,78.6 883.4,78.4 884.1,78.3 884.8,78.1 885.6,77.9 886.4,77.8 887.1,77.6 887.9,77.5 888.6,77.3 889.4,77.2 890.1,77.0 890.9,76.9 891.7,76.7 892.5,76.6 893.2,76.4 894.0,76.2 894.8,76.1 895.6,75.9 896.4,75.8 897.1,75.6 897.9,75.5 898.7,75.3 899.5,75.2 900.3,75.0 901.1,74.9 901.9,74.7 902.7,74.6 903.5,74.4 904.3,74.3 905.1,74.1 906.0,74.0 906.8,73.8 907.6,73.7 908.4,73.5 909.2,73.4 910.1,73.2 910.9,73.1 911.7,73.0 912.6,72.8 913.4,72.7 914.2,72.5 915.1,72.4 915.9,72.2 916.8,72.1 917.6,71.9 918.5,71.8 919.3,71.6 920.2,71.5 921.0,71.3 921.9,71.2 922.8,71.1 923.6,70.9 924.5,70.8 925.4,70.6 926.3,70.5 927.1,70.3 928.0,70.2 928.9,70.0 929.8,69.9 930.7,69.8 931.6,69.6 932.5,69.5 933.3,69.3 934.2,69.2 935.1,69.0 936.0,68.9 937.0,68.8 937.9,68.6 938.8,68.5 939.7,68.3 940.6,68.2 941.5,68.1 942.4,67.9 943.4,67.8 944.3,67.6 945.2,67.5 946.1,67.4 947.1,67.2 948.0,67.1 948.9,66.9 949.9,66.8 950.8,66.7 951.8,66.5 952.7,66.4 953.7,66.3 954.6,66.1 955.6,66.0 956.5,65.8 957.5,65.7 958.5,65.6 959.4,65.4 960.4,65.3 961.4,65.2 962.3,65.0 963.3,64.9 964.3,64.7 965.3,64.6 966.2,64.5 967.2,64.3 968.2,64.2 969.2,64.1 970.2,63.9 971.2,63.8 972.2,63.7 973.2,63.5 974.2,63.4" fill="none" stroke="#c8343c" stroke-width="1.4"/>
<circle cx="974.2" cy="70.2" r="3.5" fill="none" stroke="#4593c6" stroke-width="1.35"/>
<circle cx="932.9" cy="74.9" r="3.5" fill="none" stroke="#4593c6" stroke-width="1.35"/>
<circle cx="900.1" cy="79.3" r="3.5" fill="none" stroke="#4593c6" stroke-width="1.35"/>
<circle cx="874.0" cy="83.5" r="3.5" fill="none" stroke="#4593c6" stroke-width="1.35"/>
<circle cx="853.3" cy="87.5" r="3.5" fill="none" stroke="#4593c6" stroke-width="1.35"/>
<circle cx="836.9" cy="91.4" r="3.5" fill="none" stroke="#4593c6" stroke-width="1.35"/>
<circle cx="823.8" cy="95.0" r="3.5" fill="none" stroke="#4593c6" stroke-width="1.35"/>
<circle cx="813.5" cy="98.5" r="3.5" fill="none" stroke="#4593c6" stroke-width="1.35"/>
<circle cx="805.2" cy="101.9" r="3.5" fill="none" stroke="#4593c6" stroke-width="1.35"/>
<circle cx="798.7" cy="105.0" r="3.5" fill="none" stroke="#4593c6" stroke-width="1.35"/>
<circle cx="793.5" cy="108.1" r="3.5" fill="none" stroke="#4593c6" stroke-width="1.35"/>
<circle cx="789.4" cy="111.0" r="3.5" fill="none" stroke="#4593c6" stroke-width="1.35"/>
<circle cx="786.1" cy="113.7" r="3.5" fill="none" stroke="#4593c6" stroke-width="1.35"/>
<circle cx="783.5" cy="116.4" r="3.5" fill="none" stroke="#4593c6" stroke-width="1.35"/>
<circle cx="781.4" cy="118.9" r="3.5" fill="none" stroke="#4593c6" stroke-width="1.35"/>
<circle cx="779.7" cy="121.3" r="3.5" fill="none" stroke="#4593c6" stroke-width="1.35"/>
<circle cx="778.4" cy="123.5" r="3.5" fill="none" stroke="#4593c6" stroke-width="1.35"/>
<circle cx="777.4" cy="125.7" r="3.5" fill="none" stroke="#4593c6" stroke-width="1.35"/>
<circle cx="776.6" cy="127.8" r="3.5" fill="none" stroke="#4593c6" stroke-width="1.35"/>
<circle cx="775.9" cy="129.8" r="3.5" fill="none" stroke="#4593c6" stroke-width="1.35"/>
<circle cx="775.4" cy="131.7" r="3.5" fill="none" stroke="#4593c6" stroke-width="1.35"/>
<circle cx="775.0" cy="133.9" r="3.5" fill="none" stroke="#4593c6" stroke-width="1.35"/>
<circle cx="774.7" cy="135.9" r="3.5" fill="none" stroke="#4593c6" stroke-width="1.35"/>
<circle cx="774.4" cy="137.9" r="3.5" fill="none" stroke="#4593c6" stroke-width="1.35"/>
<circle cx="774.2" cy="139.7" r="3.5" fill="none" stroke="#4593c6" stroke-width="1.35"/>
<circle cx="774.0" cy="141.5" r="3.5" fill="none" stroke="#4593c6" stroke-width="1.35"/>
<circle cx="773.9" cy="143.1" r="3.5" fill="none" stroke="#4593c6" stroke-width="1.35"/>
<circle cx="773.8" cy="144.6" r="3.5" fill="none" stroke="#4593c6" stroke-width="1.35"/>
<circle cx="773.7" cy="146.1" r="3.5" fill="none" stroke="#4593c6" stroke-width="1.35"/>
<circle cx="773.7" cy="147.5" r="3.5" fill="none" stroke="#4593c6" stroke-width="1.35"/>
<circle cx="773.6" cy="148.8" r="3.5" fill="none" stroke="#4593c6" stroke-width="1.35"/>
<circle cx="773.6" cy="150.0" r="3.5" fill="none" stroke="#4593c6" stroke-width="1.35"/>
<circle cx="773.5" cy="151.2" r="3.5" fill="none" stroke="#4593c6" stroke-width="1.35"/>
<circle cx="773.5" cy="152.3" r="3.5" fill="none" stroke="#4593c6" stroke-width="1.35"/>
<circle cx="773.5" cy="153.3" r="3.5" fill="none" stroke="#4593c6" stroke-width="1.35"/>
<circle cx="773.5" cy="154.3" r="3.5" fill="none" stroke="#4593c6" stroke-width="1.35"/>
<circle cx="773.5" cy="155.2" r="3.5" fill="none" stroke="#4593c6" stroke-width="1.35"/>
<circle cx="773.4" cy="156.1" r="3.5" fill="none" stroke="#4593c6" stroke-width="1.35"/>
<circle cx="773.4" cy="156.9" r="3.5" fill="none" stroke="#4593c6" stroke-width="1.35"/>
<circle cx="773.4" cy="157.7" r="3.5" fill="none" stroke="#4593c6" stroke-width="1.35"/>
<circle cx="773.4" cy="158.4" r="3.5" fill="none" stroke="#4593c6" stroke-width="1.35"/>
<circle cx="773.4" cy="159.1" r="3.5" fill="none" stroke="#4593c6" stroke-width="1.35"/>
<circle cx="773.4" cy="159.8" r="3.5" fill="none" stroke="#4593c6" stroke-width="1.35"/>
<circle cx="773.4" cy="160.4" r="3.5" fill="none" stroke="#4593c6" stroke-width="1.35"/>
<circle cx="773.4" cy="161.0" r="3.5" fill="none" stroke="#4593c6" stroke-width="1.35"/>
<circle cx="773.4" cy="161.5" r="3.5" fill="none" stroke="#4593c6" stroke-width="1.35"/>
<circle cx="773.4" cy="162.0" r="3.5" fill="none" stroke="#4593c6" stroke-width="1.35"/>
<circle cx="773.4" cy="162.5" r="3.5" fill="none" stroke="#4593c6" stroke-width="1.35"/>
<circle cx="773.4" cy="163.0" r="3.5" fill="none" stroke="#4593c6" stroke-width="1.35"/>
<circle cx="773.4" cy="163.4" r="3.5" fill="none" stroke="#4593c6" stroke-width="1.35"/>
<circle cx="773.4" cy="163.8" r="3.5" fill="none" stroke="#4593c6" stroke-width="1.35"/>
<circle cx="773.4" cy="164.2" r="3.5" fill="none" stroke="#4593c6" stroke-width="1.35"/>
<circle cx="773.4" cy="164.6" r="3.5" fill="none" stroke="#4593c6" stroke-width="1.35"/>
<circle cx="773.4" cy="164.9" r="3.5" fill="none" stroke="#4593c6" stroke-width="1.35"/>
<circle cx="773.4" cy="165.3" r="3.5" fill="none" stroke="#4593c6" stroke-width="1.35"/>
<circle cx="773.4" cy="165.6" r="3.5" fill="none" stroke="#4593c6" stroke-width="1.35"/>
<circle cx="773.4" cy="165.9" r="3.5" fill="none" stroke="#4593c6" stroke-width="1.35"/>
<circle cx="773.4" cy="166.1" r="3.5" fill="none" stroke="#4593c6" stroke-width="1.35"/>
<circle cx="773.4" cy="166.4" r="3.5" fill="none" stroke="#4593c6" stroke-width="1.35"/>
<circle cx="773.4" cy="166.7" r="3.5" fill="none" stroke="#4593c6" stroke-width="1.35"/>
<circle cx="773.4" cy="166.9" r="3.5" fill="none" stroke="#4593c6" stroke-width="1.35"/>
<circle cx="773.4" cy="167.1" r="3.5" fill="none" stroke="#4593c6" stroke-width="1.35"/>
<circle cx="773.4" cy="167.3" r="3.5" fill="none" stroke="#4593c6" stroke-width="1.35"/>
<circle cx="773.4" cy="167.5" r="3.5" fill="none" stroke="#4593c6" stroke-width="1.35"/>
<circle cx="773.4" cy="167.7" r="3.5" fill="none" stroke="#4593c6" stroke-width="1.35"/>
<circle cx="773.4" cy="167.9" r="3.5" fill="none" stroke="#4593c6" stroke-width="1.35"/>
<circle cx="773.4" cy="168.0" r="3.5" fill="none" stroke="#4593c6" stroke-width="1.35"/>
<circle cx="773.4" cy="168.2" r="3.5" fill="none" stroke="#4593c6" stroke-width="1.35"/>
<circle cx="773.4" cy="168.3" r="3.5" fill="none" stroke="#4593c6" stroke-width="1.35"/>
<circle cx="773.4" cy="168.5" r="3.5" fill="none" stroke="#4593c6" stroke-width="1.35"/>
<circle cx="773.4" cy="168.6" r="3.5" fill="none" stroke="#4593c6" stroke-width="1.35"/>
<circle cx="773.4" cy="168.7" r="3.5" fill="none" stroke="#4593c6" stroke-width="1.35"/>
<circle cx="773.4" cy="168.8" r="3.5" fill="none" stroke="#4593c6" stroke-width="1.35"/>
<circle cx="773.4" cy="168.9" r="3.5" fill="none" stroke="#4593c6" stroke-width="1.35"/>
<circle cx="773.4" cy="169.1" r="3.5" fill="none" stroke="#4593c6" stroke-width="1.35"/>
<circle cx="773.4" cy="169.1" r="3.5" fill="none" stroke="#4593c6" stroke-width="1.35"/>
<circle cx="773.4" cy="169.2" r="3.5" fill="none" stroke="#4593c6" stroke-width="1.35"/>
<circle cx="773.4" cy="169.3" r="3.5" fill="none" stroke="#4593c6" stroke-width="1.35"/>
<circle cx="773.4" cy="169.4" r="3.5" fill="none" stroke="#4593c6" stroke-width="1.35"/>
<circle cx="773.4" cy="169.5" r="3.5" fill="none" stroke="#4593c6" stroke-width="1.35"/>
<circle cx="773.4" cy="169.6" r="3.5" fill="none" stroke="#4593c6" stroke-width="1.35"/>
<rect x="773.4" y="63.4" width="200.8" height="107.4" fill="none" stroke="#444" stroke-width="1.8"/>
<line x1="813.6" y1="170.8" x2="813.6" y2="153.8" stroke="#444" stroke-width="1.6"/>
<line x1="853.7" y1="170.8" x2="853.7" y2="153.8" stroke="#444" stroke-width="1.6"/>
<line x1="893.9" y1="170.8" x2="893.9" y2="153.8" stroke="#444" stroke-width="1.6"/>
<line x1="934.0" y1="170.8" x2="934.0" y2="153.8" stroke="#444" stroke-width="1.6"/>
<text x="773.4" y="198.5" font-size="19" text-anchor="middle">0</text>
<text x="813.6" y="198.5" font-size="19" text-anchor="middle">20</text>
<text x="853.7" y="198.5" font-size="19" text-anchor="middle">40</text>
<text x="893.9" y="198.5" font-size="19" text-anchor="middle">60</text>
<text x="934.0" y="198.5" font-size="19" text-anchor="middle">80</text>
<text x="975.2" y="198.5" font-size="19" text-anchor="middle">100</text>
<line x1="773.4" y1="126.3" x2="791.4" y2="126.3" stroke="#444" stroke-width="1.6"/>
<line x1="773.4" y1="81.6" x2="791.4" y2="81.6" stroke="#444" stroke-width="1.6"/>
<text x="765" y="177.0" font-size="19" text-anchor="end">0</text>
<text x="765" y="132.5" font-size="19" text-anchor="end">5</text>
<text x="765" y="87.8" font-size="19" text-anchor="end">10</text>
<text x="874" y="230.8" font-size="19.5" text-anchor="middle">P<tspan font-size="13" dy="4.5">d</tspan><tspan dy="-4.5"> (mW)</tspan></text>
<text transform="translate(728.5,123.3) rotate(-90)" font-size="20" letter-spacing="0.7" text-anchor="middle">g/2π (MHz)</text>
<text x="854" y="121.5" font-size="25">~P<tspan font-size="18" dy="6.5">d</tspan><tspan font-size="17" dy="-21" dx="1">1/4</tspan></text>
<text x="671.4" y="272.8" font-size="24" stroke="#2e2e2e" stroke-width="0.3">(d)</text>
<polyline points="770.8,439.9 771.5,441.1 772.2,439.4 772.8,440.8 773.5,440.1 774.2,439.8 774.9,441.9 775.6,441.0 776.3,440.5 776.9,441.1 777.6,441.7 778.3,440.8 779.0,441.2 779.7,439.7 780.4,439.9 781.0,439.8 781.7,439.0 782.4,438.5 783.1,438.2 783.8,439.5 784.5,440.0 785.1,440.1 785.8,440.5 786.5,439.2 787.2,440.0 787.9,440.6 788.6,441.3 789.2,440.0 789.9,439.9 790.6,438.3 791.3,439.2 792.0,437.8 792.7,438.1 793.3,440.6 794.0,438.2 794.7,440.3 795.4,440.6 796.1,440.0 796.8,440.5 797.4,440.7 798.1,441.3 798.8,440.2 799.5,439.4 800.2,439.1 800.9,438.5 801.5,439.3 802.2,438.7 802.9,440.4 803.6,438.0 804.3,437.9 804.9,437.9 805.6,436.8 806.3,440.3 807.0,437.3 807.7,438.3 808.4,438.4 809.0,440.5 809.7,437.6 810.4,439.7 811.1,438.6 811.8,438.7 812.5,438.3 813.1,439.4 813.8,438.0 814.5,438.6 815.2,439.2 815.9,440.9 816.6,437.3 817.2,439.9 817.9,440.3 818.6,439.0 819.3,439.3 820.0,438.7 820.7,440.6 821.3,439.8 822.0,439.2 822.7,438.9 823.4,438.9 824.1,438.9 824.8,438.3 825.4,441.0 826.1,438.0 826.8,435.3 827.5,437.8 828.2,438.7 828.9,439.5 829.5,439.2 830.2,439.2 830.9,439.6 831.6,440.3 832.3,439.1 833.0,438.7 833.6,440.8 834.3,440.0 835.0,438.0 835.7,440.4 836.4,439.5 837.1,437.5 837.7,435.8 838.4,436.2 839.1,435.4 839.8,435.7 840.5,435.9 841.1,437.1 841.8,439.4 842.5,438.8 843.2,437.8 843.9,439.7 844.6,439.8 845.2,440.8 845.9,441.5 846.6,440.5 847.3,440.2 848.0,440.2 848.7,439.1 849.3,440.6 850.0,441.8 850.7,441.0 851.4,440.4 852.1,440.1 852.8,439.4 853.4,439.2 854.1,439.5 854.8,439.1 855.5,439.4 856.2,438.3 856.9,439.8 857.5,440.0 858.2,438.8 858.9,437.2 859.6,438.9 860.3,440.6 861.0,439.3 861.6,439.0 862.3,438.8 863.0,439.9 863.7,438.7 864.4,440.1 865.1,439.3 865.7,440.1 866.4,439.5 867.1,438.9 867.8,437.4 868.5,437.6 869.2,438.0 869.8,438.9 870.5,438.6 871.2,437.4 871.9,437.9 872.6,438.4 873.2,437.4 873.9,437.2 874.6,437.3 875.3,438.7 876.0,439.0 876.7,437.7 877.3,438.7 878.0,438.2 878.7,437.8 879.4,439.7 880.1,440.0 880.8,438.6 881.4,439.0 882.1,439.6 882.8,438.7 883.5,438.9 884.2,439.8 884.9,437.7 885.5,439.1 886.2,440.1 886.9,440.2 887.6,438.4 888.3,439.5 889.0,438.7 889.6,439.9 890.3,440.4 891.0,440.3 891.7,439.2 892.4,439.1 893.1,440.5 893.7,439.3 894.4,440.3 895.1,440.7 895.8,440.1 896.5,442.6 897.2,441.1 897.8,442.7 898.5,439.1 899.2,437.6 899.9,440.3 900.6,440.9 901.3,440.1 901.9,440.1 902.6,438.2 903.3,438.7 904.0,438.4 904.7,439.0 905.4,440.2 906.0,439.5 906.7,439.4 907.4,438.2 908.1,438.5 908.8,439.3 909.4,439.3 910.1,440.9 910.8,439.4 911.5,441.7 912.2,439.7 912.9,441.0 913.5,439.7 914.2,441.6 914.9,440.8 915.6,440.7 916.3,441.0 917.0,439.8 917.6,438.9 918.3,437.5 919.0,440.3 919.7,439.3 920.4,439.0 921.1,439.5 921.7,441.6 922.4,438.6 923.1,439.5 923.8,439.1 924.5,439.9 925.2,437.8 925.8,438.4 926.5,439.9 927.2,441.0 927.9,441.5 928.6,439.1 929.3,439.2 929.9,439.1 930.6,437.7 931.3,437.2 932.0,439.1 932.7,439.3 933.4,439.0 934.0,440.2 934.7,438.4 935.4,439.3 936.1,439.1 936.8,439.0 937.5,439.5 938.1,439.4 938.8,439.4 939.5,439.5 940.2,441.2 940.9,439.5 941.6,440.3 942.2,440.2 942.9,439.2 943.6,440.0 944.3,438.7 945.0,440.3 945.6,438.9 946.3,438.8 947.0,439.6 947.7,440.4 948.4,440.8 949.1,441.0 949.7,439.9 950.4,438.9 951.1,440.1 951.8,440.3 952.5,439.1 953.2,440.7 953.8,440.5 954.5,439.3 955.2,440.3 955.9,438.9 956.6,438.9 957.3,440.2 957.9,438.8 958.6,439.9 959.3,438.9 960.0,440.6 960.7,439.8 961.4,440.5 962.0,439.0 962.7,439.7 963.4,441.2 964.1,441.3 964.8,439.0 965.5,441.0 966.1,441.6 966.8,440.6 967.5,442.0 968.2,440.0 968.9,440.3 969.6,441.6 970.2,442.2 970.9,442.4 971.6,440.0 972.3,438.5 973.0,440.1 973.7,438.8 974.3,439.7 975.0,438.8 975.7,440.8" fill="none" stroke="#161616" stroke-width="2.3" stroke-linejoin="round"/>
<polygon points="803.3,441 803.8,407.0 805.4,407.0 805.9,441" fill="#5a5a5a" stroke="#1a1a1a" stroke-width="1.1" stroke-linejoin="round"/>
<polygon points="836.4,441 838.0,324.0 839.6,324.0 841.2,441" fill="#5a5a5a" stroke="#1a1a1a" stroke-width="1.1" stroke-linejoin="round"/>
<polygon points="870.4,441 872.1,303.7 873.9,303.7 875.6,441" fill="#5a5a5a" stroke="#1a1a1a" stroke-width="1.1" stroke-linejoin="round"/>
<polygon points="905.1,441 906.4,363.7 908.0,363.7 909.3,441" fill="#5a5a5a" stroke="#1a1a1a" stroke-width="1.1" stroke-linejoin="round"/>
<polygon points="940.5,441 940.9,430.0 942.1,430.0 942.5,441" fill="#5a5a5a" stroke="#1a1a1a" stroke-width="1.1" stroke-linejoin="round"/>
<rect x="770.3" y="267.4" width="205.9" height="200.9" fill="none" stroke="#444" stroke-width="1.8"/>
<line x1="804.6" y1="468.3" x2="804.6" y2="448.8" stroke="#444" stroke-width="1.6"/>
<text x="804.6" y="490.5" font-size="22" text-anchor="middle">3.39</text>
<line x1="873.0" y1="468.3" x2="873.0" y2="448.8" stroke="#444" stroke-width="1.6"/>
<text x="873.0" y="490.5" font-size="22" text-anchor="middle">3.40</text>
<line x1="941.5" y1="468.3" x2="941.5" y2="448.8" stroke="#444" stroke-width="1.6"/>
<text x="941.5" y="490.5" font-size="22" text-anchor="middle">3.41</text>
<line x1="770.3" y1="358.6" x2="789.3" y2="358.6" stroke="#444" stroke-width="1.6"/>
<line x1="770.3" y1="449.6" x2="789.3" y2="449.6" stroke="#444" stroke-width="1.6"/>
<text x="759.5" y="274.2" font-size="21" text-anchor="end">0</text>
<text x="759.5" y="365.5" font-size="21" text-anchor="end">-50</text>
<text x="759.5" y="457.5" font-size="21" text-anchor="end">-100</text>
<text x="872.5" y="513" font-size="22" text-anchor="middle">ω/2π  (GHz)</text>
<text transform="translate(708.5,367) rotate(-90)" font-size="22.3" letter-spacing="0.25" text-anchor="middle">PSD (dbm/Hz)</text>
<text x="856.5" y="286.5" font-size="16" style="fill:#c85064;stroke:#c85064">Pump</text>
<text x="798.5" y="315" font-size="16" style="fill:#55ae96;stroke:#55ae96">Probe</text>
<text x="895.5" y="345" font-size="16" style="fill:#b8aa44;stroke:#b8aa44">1<tspan font-size="9" dy="-6">st</tspan><tspan dy="6"> Order</tspan></text>
</svg></body></html>
